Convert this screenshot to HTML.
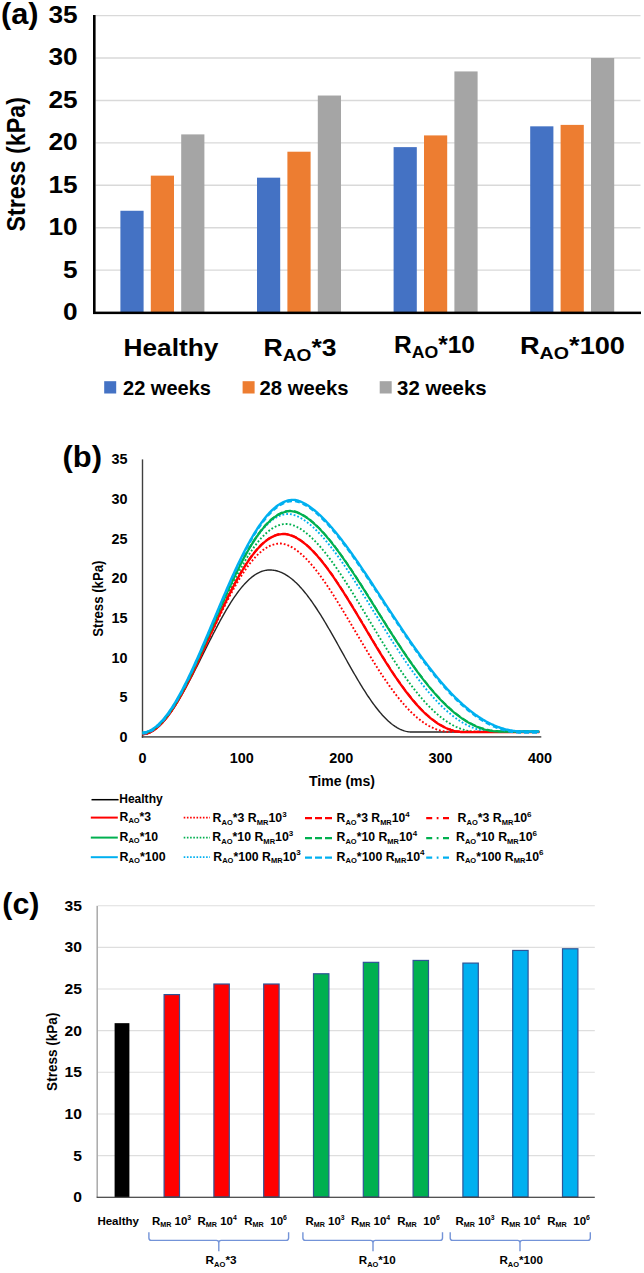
<!DOCTYPE html>
<html><head><meta charset="utf-8"><title>Stress figure</title>
<style>
html,body{margin:0;padding:0;background:#fff;}
body{width:644px;height:1273px;overflow:hidden;}
svg{display:block;font-family:"Liberation Sans",sans-serif;font-weight:bold;}
</style></head><body>
<svg width="644" height="1273" viewBox="0 0 644 1273">
<rect x="0" y="0" width="644" height="1273" fill="#fff"/>
<line x1="95.5" y1="270.17" x2="640.5" y2="270.17" stroke="#d9d9d9" stroke-width="1.4"/>
<line x1="95.5" y1="227.74" x2="640.5" y2="227.74" stroke="#d9d9d9" stroke-width="1.4"/>
<line x1="95.5" y1="185.31" x2="640.5" y2="185.31" stroke="#d9d9d9" stroke-width="1.4"/>
<line x1="95.5" y1="142.88" x2="640.5" y2="142.88" stroke="#d9d9d9" stroke-width="1.4"/>
<line x1="95.5" y1="100.45" x2="640.5" y2="100.45" stroke="#d9d9d9" stroke-width="1.4"/>
<line x1="95.5" y1="58.02" x2="640.5" y2="58.02" stroke="#d9d9d9" stroke-width="1.4"/>
<line x1="95.5" y1="15.59" x2="640.5" y2="15.59" stroke="#d9d9d9" stroke-width="1.4"/>
<rect x="120.4" y="210.77" width="23.2" height="101.83" fill="#4472c4"/>
<rect x="150.8" y="175.64" width="23.2" height="136.96" fill="#ed7d31"/>
<rect x="181.2" y="134.39" width="23.2" height="178.21" fill="#a5a5a5"/>
<rect x="257" y="177.67" width="23.2" height="134.93" fill="#4472c4"/>
<rect x="287.4" y="151.71" width="23.2" height="160.89" fill="#ed7d31"/>
<rect x="317.8" y="95.53" width="23.2" height="217.07" fill="#a5a5a5"/>
<rect x="393.6" y="147.12" width="23.2" height="165.48" fill="#4472c4"/>
<rect x="424" y="135.41" width="23.2" height="177.19" fill="#ed7d31"/>
<rect x="454.4" y="71.43" width="23.2" height="241.17" fill="#a5a5a5"/>
<rect x="530.2" y="126.33" width="23.2" height="186.27" fill="#4472c4"/>
<rect x="560.6" y="124.89" width="23.2" height="187.71" fill="#ed7d31"/>
<rect x="591" y="58.02" width="23.2" height="254.58" fill="#a5a5a5"/>
<rect x="93" y="15" width="2.6" height="299" fill="#000"/>
<rect x="93" y="311.6" width="548" height="2.5" fill="#000"/>
<text x="1" y="23.8" font-size="29.5" textLength="37.6" lengthAdjust="spacingAndGlyphs">(a)</text>
<text x="77.6" y="320" font-size="24.4" text-anchor="end" textLength="14.6" lengthAdjust="spacingAndGlyphs">0</text>
<text x="77.6" y="277.57" font-size="24.4" text-anchor="end" textLength="14.6" lengthAdjust="spacingAndGlyphs">5</text>
<text x="77.6" y="235.14" font-size="24.4" text-anchor="end" textLength="29.2" lengthAdjust="spacingAndGlyphs">10</text>
<text x="77.6" y="192.71" font-size="24.4" text-anchor="end" textLength="29.2" lengthAdjust="spacingAndGlyphs">15</text>
<text x="77.6" y="150.28" font-size="24.4" text-anchor="end" textLength="29.2" lengthAdjust="spacingAndGlyphs">20</text>
<text x="77.6" y="107.85" font-size="24.4" text-anchor="end" textLength="29.2" lengthAdjust="spacingAndGlyphs">25</text>
<text x="77.6" y="65.42" font-size="24.4" text-anchor="end" textLength="29.2" lengthAdjust="spacingAndGlyphs">30</text>
<text x="77.6" y="22.99" font-size="24.4" text-anchor="end" textLength="29.2" lengthAdjust="spacingAndGlyphs">35</text>
<text transform="translate(24.7,231.6) rotate(-90)" font-size="25.2" textLength="134.5" lengthAdjust="spacingAndGlyphs">Stress (kPa)</text>
<text x="123.5" y="355.7" font-size="24.4" textLength="95" lengthAdjust="spacingAndGlyphs">Healthy</text>
<text x="263.5" y="355.9" font-size="23.8" textLength="73" lengthAdjust="spacingAndGlyphs">R<tspan font-size="17.2" dy="5.3">AO</tspan><tspan dy="-5.3">*3</tspan></text>
<text x="394" y="353" font-size="23.8" textLength="81" lengthAdjust="spacingAndGlyphs">R<tspan font-size="17.2" dy="5.3">AO</tspan><tspan dy="-5.3">*10</tspan></text>
<text x="520" y="353.7" font-size="23.8" textLength="105" lengthAdjust="spacingAndGlyphs">R<tspan font-size="17.2" dy="5.3">AO</tspan><tspan dy="-5.3">*100</tspan></text>
<rect x="104.2" y="381.2" width="12" height="12.3" fill="#4472c4"/>
<text x="123" y="394.8" font-size="20.4" textLength="88" lengthAdjust="spacingAndGlyphs">22 weeks</text>
<rect x="242.6" y="381.2" width="12" height="12.3" fill="#ed7d31"/>
<text x="259.6" y="394.8" font-size="20.4" textLength="89" lengthAdjust="spacingAndGlyphs">28 weeks</text>
<rect x="379.7" y="381.2" width="12" height="12.3" fill="#a5a5a5"/>
<text x="397.1" y="394.8" font-size="20.4" textLength="89.5" lengthAdjust="spacingAndGlyphs">32 weeks</text>
<rect x="141.8" y="459.4" width="1.4" height="278.4" fill="#404040"/>
<rect x="141.8" y="736.2" width="399.5" height="1.4" fill="#404040"/>
<text x="62.5" y="467.3" font-size="29.5" textLength="39.5" lengthAdjust="spacingAndGlyphs">(b)</text>
<text x="127.6" y="742.2" font-size="14.4" text-anchor="end">0</text>
<text x="127.6" y="702.46" font-size="14.4" text-anchor="end">5</text>
<text x="127.6" y="662.72" font-size="14.4" text-anchor="end">10</text>
<text x="127.6" y="622.98" font-size="14.4" text-anchor="end">15</text>
<text x="127.6" y="583.24" font-size="14.4" text-anchor="end">20</text>
<text x="127.6" y="543.5" font-size="14.4" text-anchor="end">25</text>
<text x="127.6" y="503.76" font-size="14.4" text-anchor="end">30</text>
<text x="127.6" y="464.02" font-size="14.4" text-anchor="end">35</text>
<text x="142.4" y="763.2" font-size="14.4" text-anchor="middle">0</text>
<text x="241.8" y="763.2" font-size="14.4" text-anchor="middle">100</text>
<text x="341.2" y="763.2" font-size="14.4" text-anchor="middle">200</text>
<text x="440.6" y="763.2" font-size="14.4" text-anchor="middle">300</text>
<text x="540" y="763.2" font-size="14.4" text-anchor="middle">400</text>
<text x="342" y="785.6" font-size="14" text-anchor="middle" textLength="66" lengthAdjust="spacingAndGlyphs">Time (ms)</text>
<text transform="translate(103.4,636.8) rotate(-90)" font-size="14.8" textLength="76.3" lengthAdjust="spacingAndGlyphs">Stress (kPa)</text>
<path d="M142.40 734.54 L143.39 734.50 L144.38 734.40 L145.38 734.23 L146.37 734.01 L147.36 733.72 L148.35 733.38 L149.34 732.98 L150.34 732.53 L151.33 732.03 L152.32 731.47 L153.31 730.86 L154.30 730.20 L155.30 729.49 L156.29 728.73 L157.28 727.92 L158.27 727.07 L159.26 726.17 L160.26 725.22 L161.25 724.22 L162.24 723.18 L163.23 722.10 L164.22 720.98 L165.22 719.81 L166.21 718.60 L167.20 717.36 L168.19 716.07 L169.18 714.74 L170.18 713.38 L171.17 711.98 L172.16 710.55 L173.15 709.08 L174.14 707.58 L175.14 706.05 L176.13 704.49 L177.12 702.89 L178.11 701.27 L179.10 699.62 L180.10 697.94 L181.09 696.23 L182.08 694.50 L183.07 692.75 L184.06 690.97 L185.06 689.18 L186.05 687.36 L187.04 685.52 L188.03 683.67 L189.02 681.79 L190.02 679.90 L191.01 678.00 L192.00 676.08 L192.99 674.15 L193.98 672.21 L194.98 670.26 L195.97 668.30 L196.96 666.33 L197.95 664.36 L198.94 662.38 L199.94 660.39 L200.93 658.40 L201.92 656.41 L202.91 654.42 L203.90 652.43 L204.90 650.44 L205.89 648.45 L206.88 646.46 L207.87 644.48 L208.86 642.51 L209.86 640.54 L210.85 638.59 L211.84 636.64 L212.83 634.70 L213.82 632.77 L214.82 630.85 L215.81 628.95 L216.80 627.06 L217.79 625.19 L218.78 623.34 L219.78 621.50 L220.77 619.68 L221.76 617.88 L222.75 616.10 L223.74 614.34 L224.74 612.61 L225.73 610.90 L226.72 609.21 L227.71 607.55 L228.70 605.92 L229.70 604.31 L230.69 602.73 L231.68 601.18 L232.67 599.66 L233.66 598.17 L234.66 596.71 L235.65 595.28 L236.64 593.88 L237.63 592.52 L238.62 591.20 L239.62 589.91 L240.61 588.65 L241.60 587.43 L242.59 586.25 L243.58 585.10 L244.58 583.99 L245.57 582.93 L246.56 581.90 L247.55 580.91 L248.54 579.96 L249.54 579.05 L250.53 578.18 L251.52 577.36 L252.51 576.57 L253.50 575.83 L254.50 575.13 L255.49 574.48 L256.48 573.87 L257.47 573.30 L258.46 572.77 L259.46 572.29 L260.45 571.86 L261.44 571.47 L262.43 571.12 L263.42 570.82 L264.42 570.56 L265.41 570.35 L266.40 570.19 L267.39 570.07 L268.38 569.99 L269.38 569.96 L270.37 569.97 L271.36 570.02 L272.35 570.10 L273.34 570.21 L274.34 570.37 L275.33 570.55 L276.32 570.78 L277.31 571.04 L278.30 571.34 L279.30 571.68 L280.29 572.05 L281.28 572.46 L282.27 572.90 L283.26 573.38 L284.26 573.90 L285.25 574.46 L286.24 575.05 L287.23 575.67 L288.22 576.33 L289.22 577.03 L290.21 577.76 L291.20 578.53 L292.19 579.33 L293.18 580.16 L294.18 581.03 L295.17 581.93 L296.16 582.86 L297.15 583.83 L298.14 584.83 L299.14 585.86 L300.13 586.92 L301.12 588.02 L302.11 589.14 L303.10 590.29 L304.10 591.48 L305.09 592.69 L306.08 593.93 L307.07 595.19 L308.06 596.49 L309.06 597.81 L310.05 599.15 L311.04 600.53 L312.03 601.92 L313.02 603.34 L314.02 604.78 L315.01 606.25 L316.00 607.74 L316.99 609.25 L317.98 610.78 L318.98 612.33 L319.97 613.89 L320.96 615.48 L321.95 617.09 L322.94 618.71 L323.94 620.34 L324.93 622.00 L325.92 623.66 L326.91 625.34 L327.90 627.04 L328.90 628.74 L329.89 630.46 L330.88 632.18 L331.87 633.92 L332.86 635.66 L333.86 637.42 L334.85 639.18 L335.84 640.94 L336.83 642.71 L337.82 644.49 L338.82 646.27 L339.81 648.05 L340.80 649.83 L341.79 651.62 L342.78 653.40 L343.78 655.19 L344.77 656.97 L345.76 658.75 L346.75 660.52 L347.74 662.30 L348.74 664.06 L349.73 665.82 L350.72 667.58 L351.71 669.32 L352.70 671.06 L353.70 672.79 L354.69 674.51 L355.68 676.21 L356.67 677.91 L357.66 679.59 L358.66 681.26 L359.65 682.91 L360.64 684.55 L361.63 686.17 L362.62 687.78 L363.62 689.37 L364.61 690.93 L365.60 692.48 L366.59 694.01 L367.58 695.52 L368.58 697.01 L369.57 698.47 L370.56 699.92 L371.55 701.33 L372.54 702.73 L373.54 704.10 L374.53 705.44 L375.52 706.75 L376.51 708.04 L377.50 709.30 L378.50 710.53 L379.49 711.74 L380.48 712.91 L381.47 714.05 L382.46 715.17 L383.46 716.25 L384.45 717.29 L385.44 718.31 L386.43 719.29 L387.42 720.24 L388.42 721.16 L389.41 722.04 L390.40 722.89 L391.39 723.70 L392.38 724.47 L393.38 725.21 L394.37 725.91 L395.36 726.58 L396.35 727.20 L397.34 727.79 L398.34 728.34 L399.33 728.86 L400.32 729.33 L401.31 729.77 L402.30 730.17 L403.30 730.53 L404.29 730.85 L405.28 731.13 L406.27 731.37 L407.26 731.57 L408.26 731.73 L409.25 731.85 L410.24 731.93 L411.23 731.97 L412.22 731.97 L413.22 731.97 L414.21 731.97 L415.20 731.97 L416.19 731.97 L417.18 731.97 L418.18 731.97 L419.17 731.97 L420.16 731.97 L421.15 731.97 L422.14 731.97 L423.14 731.97 L424.13 731.97 L425.12 731.97 L426.11 731.97 L427.10 731.97 L428.10 731.97 L429.09 731.97 L430.08 731.97 L431.07 731.97 L432.06 731.97 L433.06 731.97 L434.05 731.97 L435.04 731.97 L436.03 731.97 L437.02 731.97 L438.02 731.97 L439.01 731.97 L440.00 731.97 L440.99 731.97 L441.98 731.97 L442.98 731.97 L443.97 731.97 L444.96 731.97 L445.95 731.97 L446.94 731.97 L447.94 731.97 L448.93 731.97 L449.92 731.97 L450.91 731.97 L451.90 731.97 L452.90 731.97 L453.89 731.97 L454.88 731.97 L455.87 731.97 L456.86 731.97 L457.86 731.97 L458.85 731.97 L459.84 731.97 L460.83 731.97 L461.82 731.97 L462.82 731.97 L463.81 731.97 L464.80 731.97 L465.79 731.97 L466.78 731.97 L467.78 731.97 L468.77 731.97 L469.76 731.97 L470.75 731.97 L471.74 731.97 L472.74 731.97 L473.73 731.97 L474.72 731.97 L475.71 731.97 L476.70 731.97 L477.70 731.97 L478.69 731.97 L479.68 731.97 L480.67 731.97 L481.66 731.97 L482.66 731.97 L483.65 731.97 L484.64 731.97 L485.63 731.97 L486.62 731.97 L487.62 731.97 L488.61 731.97 L489.60 731.97 L490.59 731.97 L491.58 731.97 L492.58 731.97 L493.57 731.97 L494.56 731.97 L495.55 731.97 L496.54 731.97 L497.54 731.97 L498.53 731.97 L499.52 731.97 L500.51 731.97 L501.50 731.97 L502.50 731.97 L503.49 731.97 L504.48 731.97 L505.47 731.97 L506.46 731.97 L507.46 731.97 L508.45 731.97 L509.44 731.97 L510.43 731.97 L511.42 731.97 L512.42 731.97 L513.41 731.97 L514.40 731.97 L515.39 731.97 L516.38 731.97 L517.38 731.97 L518.37 731.97 L519.36 731.97 L520.35 731.97 L521.34 731.97 L522.34 731.97 L523.33 731.97 L524.32 731.97 L525.31 731.97 L526.30 731.97 L527.30 731.97 L528.29 731.97 L529.28 731.97 L530.27 731.97 L531.26 731.97 L532.26 731.97 L533.25 731.97 L534.24 731.97 L535.23 731.97 L536.22 731.97 L537.22 731.97 L538.21 731.97 L539.20 731.97" fill="none" stroke="#262626" stroke-width="1.4" stroke-linejoin="round"/>
<path d="M142.40 734.31 L143.39 734.27 L144.38 734.16 L145.38 733.99 L146.37 733.76 L147.36 733.47 L148.35 733.12 L149.34 732.71 L150.34 732.25 L151.33 731.74 L152.32 731.17 L153.31 730.55 L154.30 729.88 L155.30 729.16 L156.29 728.39 L157.28 727.57 L158.27 726.70 L159.26 725.78 L160.26 724.82 L161.25 723.81 L162.24 722.76 L163.23 721.66 L164.22 720.52 L165.22 719.33 L166.21 718.11 L167.20 716.84 L168.19 715.53 L169.18 714.19 L170.18 712.80 L171.17 711.38 L172.16 709.92 L173.15 708.42 L174.14 706.89 L175.14 705.33 L176.13 703.73 L177.12 702.10 L178.11 700.44 L179.10 698.75 L180.10 697.03 L181.09 695.29 L182.08 693.51 L183.07 691.71 L184.06 689.88 L185.06 688.03 L186.05 686.15 L187.04 684.26 L188.03 682.34 L189.02 680.40 L190.02 678.44 L191.01 676.46 L192.00 674.47 L192.99 672.46 L193.98 670.43 L194.98 668.39 L195.97 666.34 L196.96 664.27 L197.95 662.20 L198.94 660.11 L199.94 658.02 L200.93 655.91 L201.92 653.80 L202.91 651.69 L203.90 649.57 L204.90 647.45 L205.89 645.32 L206.88 643.19 L207.87 641.06 L208.86 638.93 L209.86 636.81 L210.85 634.68 L211.84 632.56 L212.83 630.45 L213.82 628.34 L214.82 626.23 L215.81 624.14 L216.80 622.05 L217.79 619.97 L218.78 617.91 L219.78 615.85 L220.77 613.81 L221.76 611.78 L222.75 609.76 L223.74 607.77 L224.74 605.78 L225.73 603.82 L226.72 601.87 L227.71 599.94 L228.70 598.03 L229.70 596.15 L230.69 594.28 L231.68 592.44 L232.67 590.62 L233.66 588.82 L234.66 587.05 L235.65 585.31 L236.64 583.59 L237.63 581.90 L238.62 580.24 L239.62 578.60 L240.61 577.00 L241.60 575.43 L242.59 573.89 L243.58 572.38 L244.58 570.90 L245.57 569.46 L246.56 568.05 L247.55 566.67 L248.54 565.33 L249.54 564.02 L250.53 562.75 L251.52 561.52 L252.51 560.32 L253.50 559.17 L254.50 558.05 L255.49 556.97 L256.48 555.93 L257.47 554.92 L258.46 553.96 L259.46 553.04 L260.45 552.16 L261.44 551.32 L262.43 550.52 L263.42 549.76 L264.42 549.05 L265.41 548.38 L266.40 547.75 L267.39 547.16 L268.38 546.62 L269.38 546.12 L270.37 545.66 L271.36 545.25 L272.35 544.88 L273.34 544.56 L274.34 544.28 L275.33 544.04 L276.32 543.85 L277.31 543.70 L278.30 543.59 L279.30 543.53 L280.29 543.52 L281.28 543.57 L282.27 543.69 L283.26 543.86 L284.26 544.08 L285.25 544.35 L286.24 544.66 L287.23 545.01 L288.22 545.41 L289.22 545.85 L290.21 546.33 L291.20 546.85 L292.19 547.40 L293.18 547.99 L294.18 548.62 L295.17 549.28 L296.16 549.98 L297.15 550.71 L298.14 551.47 L299.14 552.27 L300.13 553.09 L301.12 553.95 L302.11 554.84 L303.10 555.76 L304.10 556.71 L305.09 557.68 L306.08 558.69 L307.07 559.72 L308.06 560.78 L309.06 561.86 L310.05 562.97 L311.04 564.11 L312.03 565.27 L313.02 566.45 L314.02 567.66 L315.01 568.89 L316.00 570.14 L316.99 571.42 L317.98 572.71 L318.98 574.03 L319.97 575.36 L320.96 576.72 L321.95 578.09 L322.94 579.48 L323.94 580.89 L324.93 582.32 L325.92 583.76 L326.91 585.22 L327.90 586.70 L328.90 588.19 L329.89 589.69 L330.88 591.21 L331.87 592.74 L332.86 594.28 L333.86 595.84 L334.85 597.40 L335.84 598.98 L336.83 600.57 L337.82 602.17 L338.82 603.78 L339.81 605.39 L340.80 607.02 L341.79 608.65 L342.78 610.29 L343.78 611.94 L344.77 613.59 L345.76 615.25 L346.75 616.91 L347.74 618.57 L348.74 620.25 L349.73 621.92 L350.72 623.60 L351.71 625.28 L352.70 626.96 L353.70 628.64 L354.69 630.32 L355.68 632.00 L356.67 633.69 L357.66 635.37 L358.66 637.05 L359.65 638.73 L360.64 640.40 L361.63 642.08 L362.62 643.75 L363.62 645.41 L364.61 647.08 L365.60 648.73 L366.59 650.38 L367.58 652.03 L368.58 653.67 L369.57 655.30 L370.56 656.93 L371.55 658.55 L372.54 660.15 L373.54 661.76 L374.53 663.35 L375.52 664.93 L376.51 666.50 L377.50 668.06 L378.50 669.62 L379.49 671.16 L380.48 672.68 L381.47 674.20 L382.46 675.70 L383.46 677.20 L384.45 678.67 L385.44 680.14 L386.43 681.59 L387.42 683.02 L388.42 684.44 L389.41 685.85 L390.40 687.24 L391.39 688.61 L392.38 689.97 L393.38 691.31 L394.37 692.63 L395.36 693.94 L396.35 695.23 L397.34 696.50 L398.34 697.75 L399.33 698.98 L400.32 700.20 L401.31 701.39 L402.30 702.57 L403.30 703.72 L404.29 704.86 L405.28 705.97 L406.27 707.07 L407.26 708.14 L408.26 709.19 L409.25 710.22 L410.24 711.23 L411.23 712.22 L412.22 713.18 L413.22 714.12 L414.21 715.04 L415.20 715.94 L416.19 716.81 L417.18 717.67 L418.18 718.49 L419.17 719.30 L420.16 720.08 L421.15 720.83 L422.14 721.56 L423.14 722.27 L424.13 722.95 L425.12 723.61 L426.11 724.24 L427.10 724.85 L428.10 725.44 L429.09 726.00 L430.08 726.53 L431.07 727.04 L432.06 727.52 L433.06 727.98 L434.05 728.41 L435.04 728.82 L436.03 729.20 L437.02 729.55 L438.02 729.88 L439.01 730.18 L440.00 730.46 L440.99 730.71 L441.98 730.94 L442.98 731.14 L443.97 731.31 L444.96 731.46 L445.95 731.58 L446.94 731.68 L447.94 731.75 L448.93 731.79 L449.92 731.81 L450.91 731.81 L451.90 731.81 L452.90 731.81 L453.89 731.81 L454.88 731.81 L455.87 731.81 L456.86 731.81 L457.86 731.81 L458.85 731.81 L459.84 731.81 L460.83 731.81 L461.82 731.81 L462.82 731.81 L463.81 731.81 L464.80 731.81 L465.79 731.81 L466.78 731.81 L467.78 731.81 L468.77 731.81 L469.76 731.81 L470.75 731.81 L471.74 731.81 L472.74 731.81 L473.73 731.81 L474.72 731.81 L475.71 731.81 L476.70 731.81 L477.70 731.81 L478.69 731.81 L479.68 731.81 L480.67 731.81 L481.66 731.81 L482.66 731.81 L483.65 731.81 L484.64 731.81 L485.63 731.81 L486.62 731.81 L487.62 731.81 L488.61 731.81 L489.60 731.81 L490.59 731.81 L491.58 731.81 L492.58 731.81 L493.57 731.81 L494.56 731.81 L495.55 731.81 L496.54 731.81 L497.54 731.81 L498.53 731.81 L499.52 731.81 L500.51 731.81 L501.50 731.81 L502.50 731.81 L503.49 731.81 L504.48 731.81 L505.47 731.81 L506.46 731.81 L507.46 731.81 L508.45 731.81 L509.44 731.81 L510.43 731.81 L511.42 731.81 L512.42 731.81 L513.41 731.81 L514.40 731.81 L515.39 731.81 L516.38 731.81 L517.38 731.81 L518.37 731.81 L519.36 731.81 L520.35 731.81 L521.34 731.81 L522.34 731.81 L523.33 731.81 L524.32 731.81 L525.31 731.81 L526.30 731.81 L527.30 731.81 L528.29 731.81 L529.28 731.81 L530.27 731.81 L531.26 731.81 L532.26 731.81 L533.25 731.81 L534.24 731.81 L535.23 731.81 L536.22 731.81 L537.22 731.81 L538.21 731.81 L539.20 731.81" fill="none" stroke="#ff0000" stroke-width="1.9" stroke-dasharray="1.8 2.0" stroke-linejoin="round"/>
<path d="M142.40 733.59 L143.39 733.55 L144.38 733.44 L145.38 733.27 L146.37 733.04 L147.36 732.75 L148.35 732.40 L149.34 732.00 L150.34 731.54 L151.33 731.03 L152.32 730.46 L153.31 729.84 L154.30 729.17 L155.30 728.45 L156.29 727.68 L157.28 726.85 L158.27 725.98 L159.26 725.06 L160.26 724.10 L161.25 723.08 L162.24 722.02 L163.23 720.92 L164.22 719.77 L165.22 718.58 L166.21 717.34 L167.20 716.06 L168.19 714.74 L169.18 713.38 L170.18 711.98 L171.17 710.54 L172.16 709.07 L173.15 707.55 L174.14 706.00 L175.14 704.41 L176.13 702.79 L177.12 701.14 L178.11 699.45 L179.10 697.73 L180.10 695.98 L181.09 694.20 L182.08 692.39 L183.07 690.55 L184.06 688.68 L185.06 686.79 L186.05 684.87 L187.04 682.93 L188.03 680.96 L189.02 678.97 L190.02 676.96 L191.01 674.93 L192.00 672.87 L192.99 670.80 L193.98 668.71 L194.98 666.61 L195.97 664.49 L196.96 662.35 L197.95 660.20 L198.94 658.04 L199.94 655.86 L200.93 653.67 L201.92 651.48 L202.91 649.27 L203.90 647.06 L204.90 644.84 L205.89 642.62 L206.88 640.39 L207.87 638.15 L208.86 635.92 L209.86 633.68 L210.85 631.44 L211.84 629.20 L212.83 626.97 L213.82 624.73 L214.82 622.50 L215.81 620.27 L216.80 618.05 L217.79 615.83 L218.78 613.62 L219.78 611.42 L220.77 609.23 L221.76 607.05 L222.75 604.88 L223.74 602.72 L224.74 600.58 L225.73 598.44 L226.72 596.33 L227.71 594.23 L228.70 592.14 L229.70 590.07 L230.69 588.03 L231.68 586.00 L232.67 583.99 L233.66 582.00 L234.66 580.03 L235.65 578.09 L236.64 576.17 L237.63 574.27 L238.62 572.40 L239.62 570.55 L240.61 568.73 L241.60 566.94 L242.59 565.18 L243.58 563.44 L244.58 561.74 L245.57 560.06 L246.56 558.42 L247.55 556.80 L248.54 555.22 L249.54 553.68 L250.53 552.16 L251.52 550.68 L252.51 549.24 L253.50 547.83 L254.50 546.45 L255.49 545.12 L256.48 543.82 L257.47 542.55 L258.46 541.33 L259.46 540.14 L260.45 538.99 L261.44 537.89 L262.43 536.82 L263.42 535.79 L264.42 534.80 L265.41 533.86 L266.40 532.95 L267.39 532.09 L268.38 531.27 L269.38 530.49 L270.37 529.75 L271.36 529.06 L272.35 528.41 L273.34 527.80 L274.34 527.24 L275.33 526.72 L276.32 526.25 L277.31 525.82 L278.30 525.43 L279.30 525.09 L280.29 524.79 L281.28 524.54 L282.27 524.33 L283.26 524.16 L284.26 524.04 L285.25 523.97 L286.24 523.94 L287.23 523.97 L288.22 524.07 L289.22 524.22 L290.21 524.43 L291.20 524.68 L292.19 524.97 L293.18 525.30 L294.18 525.67 L295.17 526.09 L296.16 526.53 L297.15 527.02 L298.14 527.54 L299.14 528.09 L300.13 528.68 L301.12 529.30 L302.11 529.96 L303.10 530.64 L304.10 531.35 L305.09 532.10 L306.08 532.87 L307.07 533.68 L308.06 534.51 L309.06 535.37 L310.05 536.25 L311.04 537.16 L312.03 538.10 L313.02 539.07 L314.02 540.06 L315.01 541.07 L316.00 542.11 L316.99 543.17 L317.98 544.25 L318.98 545.36 L319.97 546.49 L320.96 547.64 L321.95 548.81 L322.94 550.00 L323.94 551.21 L324.93 552.44 L325.92 553.70 L326.91 554.96 L327.90 556.25 L328.90 557.56 L329.89 558.88 L330.88 560.22 L331.87 561.58 L332.86 562.95 L333.86 564.33 L334.85 565.74 L335.84 567.15 L336.83 568.58 L337.82 570.03 L338.82 571.49 L339.81 572.96 L340.80 574.44 L341.79 575.94 L342.78 577.44 L343.78 578.96 L344.77 580.49 L345.76 582.03 L346.75 583.57 L347.74 585.13 L348.74 586.70 L349.73 588.27 L350.72 589.85 L351.71 591.44 L352.70 593.04 L353.70 594.64 L354.69 596.25 L355.68 597.86 L356.67 599.49 L357.66 601.11 L358.66 602.74 L359.65 604.37 L360.64 606.01 L361.63 607.65 L362.62 609.30 L363.62 610.94 L364.61 612.59 L365.60 614.24 L366.59 615.89 L367.58 617.54 L368.58 619.19 L369.57 620.85 L370.56 622.50 L371.55 624.15 L372.54 625.80 L373.54 627.45 L374.53 629.09 L375.52 630.74 L376.51 632.38 L377.50 634.01 L378.50 635.65 L379.49 637.28 L380.48 638.90 L381.47 640.53 L382.46 642.14 L383.46 643.75 L384.45 645.36 L385.44 646.96 L386.43 648.55 L387.42 650.14 L388.42 651.72 L389.41 653.29 L390.40 654.85 L391.39 656.41 L392.38 657.95 L393.38 659.49 L394.37 661.02 L395.36 662.54 L396.35 664.05 L397.34 665.55 L398.34 667.04 L399.33 668.51 L400.32 669.98 L401.31 671.44 L402.30 672.88 L403.30 674.31 L404.29 675.73 L405.28 677.14 L406.27 678.53 L407.26 679.91 L408.26 681.28 L409.25 682.64 L410.24 683.98 L411.23 685.30 L412.22 686.61 L413.22 687.91 L414.21 689.19 L415.20 690.46 L416.19 691.71 L417.18 692.94 L418.18 694.16 L419.17 695.36 L420.16 696.55 L421.15 697.72 L422.14 698.87 L423.14 700.01 L424.13 701.13 L425.12 702.23 L426.11 703.31 L427.10 704.38 L428.10 705.43 L429.09 706.45 L430.08 707.46 L431.07 708.46 L432.06 709.43 L433.06 710.38 L434.05 711.32 L435.04 712.23 L436.03 713.13 L437.02 714.01 L438.02 714.86 L439.01 715.70 L440.00 716.52 L440.99 717.31 L441.98 718.09 L442.98 718.84 L443.97 719.58 L444.96 720.29 L445.95 720.99 L446.94 721.66 L447.94 722.31 L448.93 722.94 L449.92 723.55 L450.91 724.14 L451.90 724.70 L452.90 725.25 L453.89 725.77 L454.88 726.28 L455.87 726.76 L456.86 727.21 L457.86 727.65 L458.85 728.07 L459.84 728.46 L460.83 728.83 L461.82 729.18 L462.82 729.51 L463.81 729.81 L464.80 730.09 L465.79 730.36 L466.78 730.59 L467.78 730.81 L468.77 731.01 L469.76 731.18 L470.75 731.33 L471.74 731.46 L472.74 731.56 L473.73 731.65 L474.72 731.71 L475.71 731.75 L476.70 731.77 L477.70 731.77 L478.69 731.77 L479.68 731.77 L480.67 731.77 L481.66 731.77 L482.66 731.77 L483.65 731.77 L484.64 731.77 L485.63 731.77 L486.62 731.77 L487.62 731.77 L488.61 731.77 L489.60 731.77 L490.59 731.77 L491.58 731.77 L492.58 731.77 L493.57 731.77 L494.56 731.77 L495.55 731.77 L496.54 731.77 L497.54 731.77 L498.53 731.77 L499.52 731.77 L500.51 731.77 L501.50 731.77 L502.50 731.77 L503.49 731.77 L504.48 731.77 L505.47 731.77 L506.46 731.77 L507.46 731.77 L508.45 731.77 L509.44 731.77 L510.43 731.77 L511.42 731.77 L512.42 731.77 L513.41 731.77 L514.40 731.77 L515.39 731.77 L516.38 731.77 L517.38 731.77 L518.37 731.77 L519.36 731.77 L520.35 731.77 L521.34 731.77 L522.34 731.77 L523.33 731.77 L524.32 731.77 L525.31 731.77 L526.30 731.77 L527.30 731.77 L528.29 731.77 L529.28 731.77 L530.27 731.77 L531.26 731.77 L532.26 731.77 L533.25 731.77 L534.24 731.77 L535.23 731.77 L536.22 731.77 L537.22 731.77 L538.21 731.77 L539.20 731.77" fill="none" stroke="#00b050" stroke-width="1.9" stroke-dasharray="1.8 2.0" stroke-linejoin="round"/>
<path d="M142.40 732.90 L143.39 732.87 L144.38 732.77 L145.38 732.61 L146.37 732.39 L147.36 732.11 L148.35 731.78 L149.34 731.39 L150.34 730.95 L151.33 730.45 L152.32 729.90 L153.31 729.30 L154.30 728.64 L155.30 727.94 L156.29 727.18 L157.28 726.37 L158.27 725.52 L159.26 724.61 L160.26 723.66 L161.25 722.66 L162.24 721.62 L163.23 720.52 L164.22 719.39 L165.22 718.20 L166.21 716.98 L167.20 715.71 L168.19 714.40 L169.18 713.04 L170.18 711.65 L171.17 710.21 L172.16 708.74 L173.15 707.22 L174.14 705.67 L175.14 704.08 L176.13 702.46 L177.12 700.80 L178.11 699.10 L179.10 697.38 L180.10 695.61 L181.09 693.82 L182.08 692.00 L183.07 690.14 L184.06 688.26 L185.06 686.35 L186.05 684.41 L187.04 682.44 L188.03 680.45 L189.02 678.43 L190.02 676.39 L191.01 674.33 L192.00 672.24 L192.99 670.14 L193.98 668.01 L194.98 665.86 L195.97 663.70 L196.96 661.52 L197.95 659.33 L198.94 657.12 L199.94 654.89 L200.93 652.65 L201.92 650.41 L202.91 648.15 L203.90 645.88 L204.90 643.60 L205.89 641.31 L206.88 639.02 L207.87 636.72 L208.86 634.42 L209.86 632.11 L210.85 629.80 L211.84 627.49 L212.83 625.18 L213.82 622.86 L214.82 620.55 L215.81 618.24 L216.80 615.94 L217.79 613.64 L218.78 611.35 L219.78 609.06 L220.77 606.78 L221.76 604.50 L222.75 602.24 L223.74 599.99 L224.74 597.75 L225.73 595.52 L226.72 593.30 L227.71 591.10 L228.70 588.91 L229.70 586.74 L230.69 584.59 L231.68 582.45 L232.67 580.34 L233.66 578.24 L234.66 576.16 L235.65 574.11 L236.64 572.08 L237.63 570.07 L238.62 568.08 L239.62 566.12 L240.61 564.19 L241.60 562.28 L242.59 560.40 L243.58 558.55 L244.58 556.72 L245.57 554.93 L246.56 553.17 L247.55 551.43 L248.54 549.73 L249.54 548.06 L250.53 546.43 L251.52 544.83 L252.51 543.26 L253.50 541.73 L254.50 540.23 L255.49 538.77 L256.48 537.35 L257.47 535.97 L258.46 534.62 L259.46 533.31 L260.45 532.04 L261.44 530.82 L262.43 529.63 L263.42 528.48 L264.42 527.37 L265.41 526.31 L266.40 525.28 L267.39 524.30 L268.38 523.36 L269.38 522.47 L270.37 521.62 L271.36 520.81 L272.35 520.05 L273.34 519.33 L274.34 518.65 L275.33 518.02 L276.32 517.44 L277.31 516.90 L278.30 516.41 L279.30 515.96 L280.29 515.56 L281.28 515.20 L282.27 514.89 L283.26 514.63 L284.26 514.41 L285.25 514.24 L286.24 514.11 L287.23 514.04 L288.22 514.00 L289.22 514.04 L290.21 514.15 L291.20 514.31 L292.19 514.52 L293.18 514.78 L294.18 515.07 L295.17 515.41 L296.16 515.79 L297.15 516.21 L298.14 516.66 L299.14 517.15 L300.13 517.67 L301.12 518.22 L302.11 518.81 L303.10 519.42 L304.10 520.07 L305.09 520.75 L306.08 521.45 L307.07 522.19 L308.06 522.95 L309.06 523.74 L310.05 524.55 L311.04 525.39 L312.03 526.26 L313.02 527.15 L314.02 528.07 L315.01 529.01 L316.00 529.97 L316.99 530.96 L317.98 531.97 L318.98 533.00 L319.97 534.05 L320.96 535.12 L321.95 536.21 L322.94 537.33 L323.94 538.46 L324.93 539.61 L325.92 540.78 L326.91 541.97 L327.90 543.18 L328.90 544.41 L329.89 545.65 L330.88 546.91 L331.87 548.18 L332.86 549.47 L333.86 550.78 L334.85 552.10 L335.84 553.43 L336.83 554.78 L337.82 556.15 L338.82 557.52 L339.81 558.91 L340.80 560.32 L341.79 561.73 L342.78 563.16 L343.78 564.60 L344.77 566.05 L345.76 567.51 L346.75 568.98 L347.74 570.46 L348.74 571.94 L349.73 573.44 L350.72 574.95 L351.71 576.47 L352.70 577.99 L353.70 579.52 L354.69 581.06 L355.68 582.60 L356.67 584.16 L357.66 585.71 L358.66 587.28 L359.65 588.85 L360.64 590.42 L361.63 592.00 L362.62 593.58 L363.62 595.17 L364.61 596.76 L365.60 598.35 L366.59 599.95 L367.58 601.55 L368.58 603.15 L369.57 604.75 L370.56 606.36 L371.55 607.96 L372.54 609.57 L373.54 611.18 L374.53 612.79 L375.52 614.39 L376.51 616.00 L377.50 617.61 L378.50 619.21 L379.49 620.81 L380.48 622.41 L381.47 624.01 L382.46 625.61 L383.46 627.21 L384.45 628.80 L385.44 630.38 L386.43 631.97 L387.42 633.55 L388.42 635.12 L389.41 636.70 L390.40 638.26 L391.39 639.82 L392.38 641.38 L393.38 642.93 L394.37 644.47 L395.36 646.01 L396.35 647.54 L397.34 649.06 L398.34 650.58 L399.33 652.09 L400.32 653.59 L401.31 655.08 L402.30 656.57 L403.30 658.04 L404.29 659.51 L405.28 660.97 L406.27 662.42 L407.26 663.86 L408.26 665.29 L409.25 666.71 L410.24 668.12 L411.23 669.52 L412.22 670.90 L413.22 672.28 L414.21 673.65 L415.20 675.00 L416.19 676.34 L417.18 677.67 L418.18 678.99 L419.17 680.30 L420.16 681.59 L421.15 682.87 L422.14 684.14 L423.14 685.39 L424.13 686.63 L425.12 687.86 L426.11 689.07 L427.10 690.27 L428.10 691.45 L429.09 692.63 L430.08 693.78 L431.07 694.92 L432.06 696.05 L433.06 697.16 L434.05 698.26 L435.04 699.34 L436.03 700.40 L437.02 701.45 L438.02 702.48 L439.01 703.50 L440.00 704.50 L440.99 705.48 L441.98 706.45 L442.98 707.40 L443.97 708.34 L444.96 709.26 L445.95 710.16 L446.94 711.04 L447.94 711.91 L448.93 712.75 L449.92 713.59 L450.91 714.40 L451.90 715.20 L452.90 715.97 L453.89 716.73 L454.88 717.48 L455.87 718.20 L456.86 718.91 L457.86 719.59 L458.85 720.26 L459.84 720.91 L460.83 721.54 L461.82 722.16 L462.82 722.75 L463.81 723.33 L464.80 723.89 L465.79 724.42 L466.78 724.94 L467.78 725.44 L468.77 725.93 L469.76 726.39 L470.75 726.83 L471.74 727.25 L472.74 727.66 L473.73 728.05 L474.72 728.41 L475.71 728.76 L476.70 729.09 L477.70 729.40 L478.69 729.68 L479.68 729.95 L480.67 730.21 L481.66 730.44 L482.66 730.65 L483.65 730.84 L484.64 731.01 L485.63 731.17 L486.62 731.30 L487.62 731.42 L488.61 731.51 L489.60 731.59 L490.59 731.65 L491.58 731.68 L492.58 731.70 L493.57 731.71 L494.56 731.71 L495.55 731.71 L496.54 731.71 L497.54 731.71 L498.53 731.71 L499.52 731.71 L500.51 731.71 L501.50 731.71 L502.50 731.71 L503.49 731.71 L504.48 731.71 L505.47 731.71 L506.46 731.71 L507.46 731.71 L508.45 731.71 L509.44 731.71 L510.43 731.71 L511.42 731.71 L512.42 731.71 L513.41 731.71 L514.40 731.71 L515.39 731.71 L516.38 731.71 L517.38 731.71 L518.37 731.71 L519.36 731.71 L520.35 731.71 L521.34 731.71 L522.34 731.71 L523.33 731.71 L524.32 731.71 L525.31 731.71 L526.30 731.71 L527.30 731.71 L528.29 731.71 L529.28 731.71 L530.27 731.71 L531.26 731.71 L532.26 731.71 L533.25 731.71 L534.24 731.71 L535.23 731.71 L536.22 731.71 L537.22 731.71 L538.21 731.71 L539.20 731.71" fill="none" stroke="#00b0f0" stroke-width="1.9" stroke-dasharray="1.8 2.0" stroke-linejoin="round"/>
<path d="M142.40 734.17 L143.39 734.14 L144.38 734.03 L145.38 733.86 L146.37 733.63 L147.36 733.35 L148.35 733.00 L149.34 732.60 L150.34 732.15 L151.33 731.64 L152.32 731.08 L153.31 730.46 L154.30 729.80 L155.30 729.08 L156.29 728.31 L157.28 727.50 L158.27 726.64 L159.26 725.72 L160.26 724.77 L161.25 723.76 L162.24 722.71 L163.23 721.62 L164.22 720.48 L165.22 719.30 L166.21 718.07 L167.20 716.81 L168.19 715.50 L169.18 714.15 L170.18 712.77 L171.17 711.34 L172.16 709.88 L173.15 708.39 L174.14 706.85 L175.14 705.28 L176.13 703.68 L177.12 702.05 L178.11 700.38 L179.10 698.68 L180.10 696.95 L181.09 695.19 L182.08 693.41 L183.07 691.59 L184.06 689.75 L185.06 687.89 L186.05 685.99 L187.04 684.08 L188.03 682.14 L189.02 680.18 L190.02 678.20 L191.01 676.20 L192.00 674.18 L192.99 672.15 L193.98 670.09 L194.98 668.03 L195.97 665.94 L196.96 663.85 L197.95 661.74 L198.94 659.61 L199.94 657.48 L200.93 655.34 L201.92 653.19 L202.91 651.03 L203.90 648.87 L204.90 646.70 L205.89 644.52 L206.88 642.35 L207.87 640.17 L208.86 637.98 L209.86 635.80 L210.85 633.62 L211.84 631.44 L212.83 629.27 L213.82 627.09 L214.82 624.92 L215.81 622.76 L216.80 620.61 L217.79 618.46 L218.78 616.32 L219.78 614.19 L220.77 612.07 L221.76 609.96 L222.75 607.87 L223.74 605.78 L224.74 603.72 L225.73 601.66 L226.72 599.63 L227.71 597.61 L228.70 595.61 L229.70 593.63 L230.69 591.67 L231.68 589.73 L232.67 587.81 L233.66 585.91 L234.66 584.03 L235.65 582.18 L236.64 580.36 L237.63 578.56 L238.62 576.79 L239.62 575.04 L240.61 573.32 L241.60 571.64 L242.59 569.98 L243.58 568.35 L244.58 566.75 L245.57 565.18 L246.56 563.65 L247.55 562.14 L248.54 560.68 L249.54 559.24 L250.53 557.84 L251.52 556.48 L252.51 555.15 L253.50 553.86 L254.50 552.60 L255.49 551.39 L256.48 550.21 L257.47 549.06 L258.46 547.96 L259.46 546.90 L260.45 545.88 L261.44 544.89 L262.43 543.95 L263.42 543.05 L264.42 542.19 L265.41 541.37 L266.40 540.60 L267.39 539.87 L268.38 539.18 L269.38 538.53 L270.37 537.92 L271.36 537.36 L272.35 536.84 L273.34 536.37 L274.34 535.94 L275.33 535.55 L276.32 535.21 L277.31 534.91 L278.30 534.66 L279.30 534.45 L280.29 534.29 L281.28 534.17 L282.27 534.09 L283.26 534.06 L284.26 534.08 L285.25 534.16 L286.24 534.29 L287.23 534.47 L288.22 534.69 L289.22 534.94 L290.21 535.24 L291.20 535.58 L292.19 535.95 L293.18 536.37 L294.18 536.81 L295.17 537.30 L296.16 537.81 L297.15 538.36 L298.14 538.95 L299.14 539.56 L300.13 540.21 L301.12 540.89 L302.11 541.60 L303.10 542.34 L304.10 543.11 L305.09 543.91 L306.08 544.74 L307.07 545.59 L308.06 546.48 L309.06 547.39 L310.05 548.33 L311.04 549.29 L312.03 550.28 L313.02 551.30 L314.02 552.34 L315.01 553.40 L316.00 554.49 L316.99 555.60 L317.98 556.74 L318.98 557.89 L319.97 559.07 L320.96 560.27 L321.95 561.49 L322.94 562.74 L323.94 564.00 L324.93 565.28 L325.92 566.58 L326.91 567.90 L327.90 569.24 L328.90 570.59 L329.89 571.97 L330.88 573.36 L331.87 574.76 L332.86 576.18 L333.86 577.62 L334.85 579.07 L335.84 580.54 L336.83 582.02 L337.82 583.51 L338.82 585.02 L339.81 586.54 L340.80 588.07 L341.79 589.61 L342.78 591.16 L343.78 592.72 L344.77 594.30 L345.76 595.88 L346.75 597.47 L347.74 599.07 L348.74 600.68 L349.73 602.29 L350.72 603.92 L351.71 605.55 L352.70 607.18 L353.70 608.82 L354.69 610.47 L355.68 612.12 L356.67 613.78 L357.66 615.43 L358.66 617.10 L359.65 618.76 L360.64 620.43 L361.63 622.10 L362.62 623.77 L363.62 625.44 L364.61 627.11 L365.60 628.78 L366.59 630.46 L367.58 632.13 L368.58 633.80 L369.57 635.46 L370.56 637.13 L371.55 638.79 L372.54 640.45 L373.54 642.10 L374.53 643.76 L375.52 645.40 L376.51 647.05 L377.50 648.68 L378.50 650.31 L379.49 651.94 L380.48 653.56 L381.47 655.17 L382.46 656.77 L383.46 658.37 L384.45 659.95 L385.44 661.53 L386.43 663.10 L387.42 664.66 L388.42 666.21 L389.41 667.75 L390.40 669.28 L391.39 670.80 L392.38 672.31 L393.38 673.80 L394.37 675.28 L395.36 676.75 L396.35 678.21 L397.34 679.65 L398.34 681.09 L399.33 682.50 L400.32 683.90 L401.31 685.29 L402.30 686.66 L403.30 688.02 L404.29 689.36 L405.28 690.69 L406.27 692.00 L407.26 693.29 L408.26 694.56 L409.25 695.82 L410.24 697.06 L411.23 698.29 L412.22 699.49 L413.22 700.68 L414.21 701.85 L415.20 703.00 L416.19 704.13 L417.18 705.24 L418.18 706.33 L419.17 707.40 L420.16 708.45 L421.15 709.48 L422.14 710.49 L423.14 711.48 L424.13 712.45 L425.12 713.39 L426.11 714.32 L427.10 715.22 L428.10 716.11 L429.09 716.97 L430.08 717.80 L431.07 718.62 L432.06 719.41 L433.06 720.18 L434.05 720.93 L435.04 721.65 L436.03 722.35 L437.02 723.03 L438.02 723.68 L439.01 724.31 L440.00 724.92 L440.99 725.50 L441.98 726.06 L442.98 726.60 L443.97 727.11 L444.96 727.59 L445.95 728.06 L446.94 728.49 L447.94 728.91 L448.93 729.30 L449.92 729.66 L450.91 730.00 L451.90 730.31 L452.90 730.60 L453.89 730.87 L454.88 731.11 L455.87 731.33 L456.86 731.52 L457.86 731.68 L458.85 731.82 L459.84 731.94 L460.83 732.03 L461.82 732.10 L462.82 732.14 L463.81 732.16 L464.80 732.16 L465.79 732.16 L466.78 732.16 L467.78 732.16 L468.77 732.16 L469.76 732.16 L470.75 732.16 L471.74 732.16 L472.74 732.16 L473.73 732.16 L474.72 732.16 L475.71 732.16 L476.70 732.16 L477.70 732.16 L478.69 732.16 L479.68 732.16 L480.67 732.16 L481.66 732.16 L482.66 732.16 L483.65 732.16 L484.64 732.16 L485.63 732.16 L486.62 732.16 L487.62 732.16 L488.61 732.16 L489.60 732.16 L490.59 732.16 L491.58 732.16 L492.58 732.16 L493.57 732.16 L494.56 732.16 L495.55 732.16 L496.54 732.16 L497.54 732.16 L498.53 732.16 L499.52 732.16 L500.51 732.16 L501.50 732.16 L502.50 732.16 L503.49 732.16 L504.48 732.16 L505.47 732.16 L506.46 732.16 L507.46 732.16 L508.45 732.16 L509.44 732.16 L510.43 732.16 L511.42 732.16 L512.42 732.16 L513.41 732.16 L514.40 732.16 L515.39 732.16 L516.38 732.16 L517.38 732.16 L518.37 732.16 L519.36 732.16 L520.35 732.16 L521.34 732.16 L522.34 732.16 L523.33 732.16 L524.32 732.16 L525.31 732.16 L526.30 732.16 L527.30 732.16 L528.29 732.16 L529.28 732.16 L530.27 732.16 L531.26 732.16 L532.26 732.16 L533.25 732.16 L534.24 732.16 L535.23 732.16 L536.22 732.16 L537.22 732.16 L538.21 732.16 L539.20 732.16" fill="none" stroke="#ff0000" stroke-width="2.3" stroke-linejoin="round"/>
<path d="M142.40 733.87 L143.39 733.84 L144.38 733.73 L145.38 733.56 L146.37 733.33 L147.36 733.05 L148.35 732.70 L149.34 732.30 L150.34 731.85 L151.33 731.34 L152.32 730.78 L153.31 730.16 L154.30 729.50 L155.30 728.78 L156.29 728.01 L157.28 727.20 L158.27 726.34 L159.26 725.42 L160.26 724.47 L161.25 723.46 L162.24 722.41 L163.23 721.32 L164.22 720.18 L165.22 719.00 L166.21 717.77 L167.20 716.51 L168.19 715.20 L169.18 713.85 L170.18 712.47 L171.17 711.04 L172.16 709.58 L173.15 708.09 L174.14 706.55 L175.14 704.98 L176.13 703.38 L177.12 701.75 L178.11 700.08 L179.10 698.38 L180.10 696.65 L181.09 694.89 L182.08 693.11 L183.07 691.29 L184.06 689.45 L185.06 687.59 L186.05 685.69 L187.04 683.78 L188.03 681.84 L189.02 679.88 L190.02 677.90 L191.01 675.90 L192.00 673.88 L192.99 671.85 L193.98 669.79 L194.98 667.73 L195.97 665.64 L196.96 663.55 L197.95 661.44 L198.94 659.31 L199.94 657.18 L200.93 655.04 L201.92 652.89 L202.91 650.73 L203.90 648.57 L204.90 646.40 L205.89 644.22 L206.88 642.05 L207.87 639.87 L208.86 637.68 L209.86 635.50 L210.85 633.32 L211.84 631.14 L212.83 628.97 L213.82 626.79 L214.82 624.62 L215.81 622.46 L216.80 620.31 L217.79 618.16 L218.78 616.02 L219.78 613.89 L220.77 611.77 L221.76 609.66 L222.75 607.57 L223.74 605.48 L224.74 603.42 L225.73 601.36 L226.72 599.33 L227.71 597.31 L228.70 595.31 L229.70 593.33 L230.69 591.37 L231.68 589.43 L232.67 587.51 L233.66 585.61 L234.66 583.73 L235.65 581.88 L236.64 580.06 L237.63 578.26 L238.62 576.49 L239.62 574.74 L240.61 573.02 L241.60 571.34 L242.59 569.68 L243.58 568.05 L244.58 566.45 L245.57 564.88 L246.56 563.35 L247.55 561.84 L248.54 560.38 L249.54 558.94 L250.53 557.54 L251.52 556.18 L252.51 554.85 L253.50 553.56 L254.50 552.30 L255.49 551.09 L256.48 549.91 L257.47 548.76 L258.46 547.66 L259.46 546.60 L260.45 545.58 L261.44 544.59 L262.43 543.65 L263.42 542.75 L264.42 541.89 L265.41 541.07 L266.40 540.30 L267.39 539.57 L268.38 538.88 L269.38 538.23 L270.37 537.62 L271.36 537.06 L272.35 536.54 L273.34 536.07 L274.34 535.64 L275.33 535.25 L276.32 534.91 L277.31 534.61 L278.30 534.36 L279.30 534.15 L280.29 533.99 L281.28 533.87 L282.27 533.79 L283.26 533.76 L284.26 533.78 L285.25 533.86 L286.24 533.99 L287.23 534.17 L288.22 534.39 L289.22 534.64 L290.21 534.94 L291.20 535.28 L292.19 535.65 L293.18 536.07 L294.18 536.51 L295.17 537.00 L296.16 537.51 L297.15 538.06 L298.14 538.65 L299.14 539.26 L300.13 539.91 L301.12 540.59 L302.11 541.30 L303.10 542.04 L304.10 542.81 L305.09 543.61 L306.08 544.44 L307.07 545.29 L308.06 546.18 L309.06 547.09 L310.05 548.03 L311.04 548.99 L312.03 549.98 L313.02 551.00 L314.02 552.04 L315.01 553.10 L316.00 554.19 L316.99 555.30 L317.98 556.44 L318.98 557.59 L319.97 558.77 L320.96 559.97 L321.95 561.19 L322.94 562.44 L323.94 563.70 L324.93 564.98 L325.92 566.28 L326.91 567.60 L327.90 568.94 L328.90 570.29 L329.89 571.67 L330.88 573.06 L331.87 574.46 L332.86 575.88 L333.86 577.32 L334.85 578.77 L335.84 580.24 L336.83 581.72 L337.82 583.21 L338.82 584.72 L339.81 586.24 L340.80 587.77 L341.79 589.31 L342.78 590.86 L343.78 592.42 L344.77 594.00 L345.76 595.58 L346.75 597.17 L347.74 598.77 L348.74 600.38 L349.73 601.99 L350.72 603.62 L351.71 605.25 L352.70 606.88 L353.70 608.52 L354.69 610.17 L355.68 611.82 L356.67 613.48 L357.66 615.13 L358.66 616.80 L359.65 618.46 L360.64 620.13 L361.63 621.80 L362.62 623.47 L363.62 625.14 L364.61 626.81 L365.60 628.48 L366.59 630.16 L367.58 631.83 L368.58 633.50 L369.57 635.16 L370.56 636.83 L371.55 638.49 L372.54 640.15 L373.54 641.80 L374.53 643.46 L375.52 645.10 L376.51 646.75 L377.50 648.38 L378.50 650.01 L379.49 651.64 L380.48 653.26 L381.47 654.87 L382.46 656.47 L383.46 658.07 L384.45 659.65 L385.44 661.23 L386.43 662.80 L387.42 664.36 L388.42 665.91 L389.41 667.45 L390.40 668.98 L391.39 670.50 L392.38 672.01 L393.38 673.50 L394.37 674.98 L395.36 676.45 L396.35 677.91 L397.34 679.35 L398.34 680.79 L399.33 682.20 L400.32 683.60 L401.31 684.99 L402.30 686.36 L403.30 687.72 L404.29 689.06 L405.28 690.39 L406.27 691.70 L407.26 692.99 L408.26 694.26 L409.25 695.52 L410.24 696.76 L411.23 697.99 L412.22 699.19 L413.22 700.38 L414.21 701.55 L415.20 702.70 L416.19 703.83 L417.18 704.94 L418.18 706.03 L419.17 707.10 L420.16 708.15 L421.15 709.18 L422.14 710.19 L423.14 711.18 L424.13 712.15 L425.12 713.09 L426.11 714.02 L427.10 714.92 L428.10 715.81 L429.09 716.67 L430.08 717.50 L431.07 718.32 L432.06 719.11 L433.06 719.88 L434.05 720.63 L435.04 721.35 L436.03 722.05 L437.02 722.73 L438.02 723.38 L439.01 724.01 L440.00 724.62 L440.99 725.20 L441.98 725.76 L442.98 726.30 L443.97 726.81 L444.96 727.29 L445.95 727.76 L446.94 728.19 L447.94 728.61 L448.93 729.00 L449.92 729.36 L450.91 729.70 L451.90 730.01 L452.90 730.30 L453.89 730.57 L454.88 730.81 L455.87 731.03 L456.86 731.22 L457.86 731.38 L458.85 731.52 L459.84 731.64 L460.83 731.73 L461.82 731.80 L462.82 731.84 L463.81 731.86 L464.80 731.86 L465.79 731.86 L466.78 731.86 L467.78 731.86 L468.77 731.86 L469.76 731.86 L470.75 731.86 L471.74 731.86 L472.74 731.86 L473.73 731.86 L474.72 731.86 L475.71 731.86 L476.70 731.86 L477.70 731.86 L478.69 731.86 L479.68 731.86 L480.67 731.86 L481.66 731.86 L482.66 731.86 L483.65 731.86 L484.64 731.86 L485.63 731.86 L486.62 731.86 L487.62 731.86 L488.61 731.86 L489.60 731.86 L490.59 731.86 L491.58 731.86 L492.58 731.86 L493.57 731.86 L494.56 731.86 L495.55 731.86 L496.54 731.86 L497.54 731.86 L498.53 731.86 L499.52 731.86 L500.51 731.86 L501.50 731.86 L502.50 731.86 L503.49 731.86 L504.48 731.86 L505.47 731.86 L506.46 731.86 L507.46 731.86 L508.45 731.86 L509.44 731.86 L510.43 731.86 L511.42 731.86 L512.42 731.86 L513.41 731.86 L514.40 731.86 L515.39 731.86 L516.38 731.86 L517.38 731.86 L518.37 731.86 L519.36 731.86 L520.35 731.86 L521.34 731.86 L522.34 731.86 L523.33 731.86 L524.32 731.86 L525.31 731.86 L526.30 731.86 L527.30 731.86 L528.29 731.86 L529.28 731.86 L530.27 731.86 L531.26 731.86 L532.26 731.86 L533.25 731.86 L534.24 731.86 L535.23 731.86 L536.22 731.86 L537.22 731.86 L538.21 731.86 L539.20 731.86" fill="none" stroke="#ff0000" stroke-width="2.1" stroke-dasharray="6 3" stroke-linejoin="round"/>
<path d="M142.40 733.11 L143.39 733.07 L144.38 732.97 L145.38 732.79 L146.37 732.56 L147.36 732.27 L148.35 731.92 L149.34 731.52 L150.34 731.06 L151.33 730.54 L152.32 729.97 L153.31 729.35 L154.30 728.67 L155.30 727.95 L156.29 727.17 L157.28 726.34 L158.27 725.47 L159.26 724.54 L160.26 723.57 L161.25 722.55 L162.24 721.49 L163.23 720.38 L164.22 719.22 L165.22 718.03 L166.21 716.78 L167.20 715.50 L168.19 714.17 L169.18 712.80 L170.18 711.40 L171.17 709.95 L172.16 708.46 L173.15 706.94 L174.14 705.38 L175.14 703.78 L176.13 702.15 L177.12 700.48 L178.11 698.78 L179.10 697.05 L180.10 695.28 L181.09 693.49 L182.08 691.66 L183.07 689.81 L184.06 687.92 L185.06 686.01 L186.05 684.07 L187.04 682.11 L188.03 680.12 L189.02 678.11 L190.02 676.07 L191.01 674.01 L192.00 671.93 L192.99 669.83 L193.98 667.72 L194.98 665.58 L195.97 663.43 L196.96 661.26 L197.95 659.07 L198.94 656.87 L199.94 654.66 L200.93 652.43 L201.92 650.20 L202.91 647.95 L203.90 645.69 L204.90 643.43 L205.89 641.16 L206.88 638.88 L207.87 636.59 L208.86 634.30 L209.86 632.01 L210.85 629.71 L211.84 627.42 L212.83 625.12 L213.82 622.82 L214.82 620.52 L215.81 618.23 L216.80 615.94 L217.79 613.65 L218.78 611.37 L219.78 609.09 L220.77 606.82 L221.76 604.56 L222.75 602.31 L223.74 600.07 L224.74 597.83 L225.73 595.61 L226.72 593.41 L227.71 591.21 L228.70 589.03 L229.70 586.86 L230.69 584.72 L231.68 582.58 L232.67 580.47 L233.66 578.37 L234.66 576.30 L235.65 574.24 L236.64 572.20 L237.63 570.19 L238.62 568.20 L239.62 566.23 L240.61 564.29 L241.60 562.37 L242.59 560.48 L243.58 558.61 L244.58 556.77 L245.57 554.96 L246.56 553.18 L247.55 551.43 L248.54 549.70 L249.54 548.01 L250.53 546.35 L251.52 544.72 L252.51 543.13 L253.50 541.56 L254.50 540.03 L255.49 538.54 L256.48 537.08 L257.47 535.65 L258.46 534.27 L259.46 532.91 L260.45 531.60 L261.44 530.32 L262.43 529.08 L263.42 527.88 L264.42 526.72 L265.41 525.60 L266.40 524.51 L267.39 523.47 L268.38 522.47 L269.38 521.51 L270.37 520.59 L271.36 519.71 L272.35 518.87 L273.34 518.08 L274.34 517.33 L275.33 516.62 L276.32 515.95 L277.31 515.33 L278.30 514.75 L279.30 514.21 L280.29 513.72 L281.28 513.27 L282.27 512.86 L283.26 512.50 L284.26 512.19 L285.25 511.91 L286.24 511.69 L287.23 511.50 L288.22 511.36 L289.22 511.27 L290.21 511.22 L291.20 511.22 L292.19 511.31 L293.18 511.46 L294.18 511.66 L295.17 511.92 L296.16 512.22 L297.15 512.56 L298.14 512.95 L299.14 513.37 L300.13 513.83 L301.12 514.33 L302.11 514.86 L303.10 515.42 L304.10 516.01 L305.09 516.64 L306.08 517.30 L307.07 517.98 L308.06 518.70 L309.06 519.44 L310.05 520.22 L311.04 521.02 L312.03 521.84 L313.02 522.69 L314.02 523.57 L315.01 524.47 L316.00 525.39 L316.99 526.34 L317.98 527.31 L318.98 528.31 L319.97 529.32 L320.96 530.36 L321.95 531.42 L322.94 532.50 L323.94 533.59 L324.93 534.71 L325.92 535.85 L326.91 537.01 L327.90 538.18 L328.90 539.37 L329.89 540.58 L330.88 541.81 L331.87 543.05 L332.86 544.31 L333.86 545.58 L334.85 546.87 L335.84 548.18 L336.83 549.49 L337.82 550.83 L338.82 552.17 L339.81 553.53 L340.80 554.91 L341.79 556.29 L342.78 557.69 L343.78 559.10 L344.77 560.52 L345.76 561.95 L346.75 563.39 L347.74 564.84 L348.74 566.30 L349.73 567.77 L350.72 569.25 L351.71 570.74 L352.70 572.24 L353.70 573.74 L354.69 575.25 L355.68 576.77 L356.67 578.30 L357.66 579.83 L358.66 581.37 L359.65 582.91 L360.64 584.46 L361.63 586.02 L362.62 587.58 L363.62 589.14 L364.61 590.71 L365.60 592.28 L366.59 593.86 L367.58 595.44 L368.58 597.02 L369.57 598.60 L370.56 600.19 L371.55 601.78 L372.54 603.36 L373.54 604.95 L374.53 606.54 L375.52 608.14 L376.51 609.73 L377.50 611.32 L378.50 612.91 L379.49 614.50 L380.48 616.09 L381.47 617.67 L382.46 619.26 L383.46 620.84 L384.45 622.42 L385.44 624.00 L386.43 625.58 L387.42 627.15 L388.42 628.72 L389.41 630.28 L390.40 631.84 L391.39 633.40 L392.38 634.95 L393.38 636.50 L394.37 638.04 L395.36 639.58 L396.35 641.11 L397.34 642.63 L398.34 644.15 L399.33 645.66 L400.32 647.17 L401.31 648.67 L402.30 650.16 L403.30 651.64 L404.29 653.12 L405.28 654.58 L406.27 656.04 L407.26 657.49 L408.26 658.94 L409.25 660.37 L410.24 661.79 L411.23 663.21 L412.22 664.61 L413.22 666.01 L414.21 667.39 L415.20 668.77 L416.19 670.13 L417.18 671.48 L418.18 672.83 L419.17 674.16 L420.16 675.48 L421.15 676.78 L422.14 678.08 L423.14 679.36 L424.13 680.64 L425.12 681.90 L426.11 683.14 L427.10 684.38 L428.10 685.60 L429.09 686.81 L430.08 688.00 L431.07 689.19 L432.06 690.35 L433.06 691.51 L434.05 692.65 L435.04 693.77 L436.03 694.89 L437.02 695.98 L438.02 697.07 L439.01 698.14 L440.00 699.19 L440.99 700.23 L441.98 701.25 L442.98 702.26 L443.97 703.25 L444.96 704.23 L445.95 705.19 L446.94 706.14 L447.94 707.07 L448.93 707.98 L449.92 708.88 L450.91 709.76 L451.90 710.63 L452.90 711.47 L453.89 712.31 L454.88 713.12 L455.87 713.92 L456.86 714.70 L457.86 715.47 L458.85 716.22 L459.84 716.95 L460.83 717.66 L461.82 718.36 L462.82 719.04 L463.81 719.70 L464.80 720.34 L465.79 720.97 L466.78 721.58 L467.78 722.17 L468.77 722.74 L469.76 723.30 L470.75 723.84 L471.74 724.36 L472.74 724.86 L473.73 725.34 L474.72 725.81 L475.71 726.26 L476.70 726.69 L477.70 727.10 L478.69 727.50 L479.68 727.87 L480.67 728.23 L481.66 728.57 L482.66 728.89 L483.65 729.19 L484.64 729.48 L485.63 729.74 L486.62 729.99 L487.62 730.22 L488.61 730.43 L489.60 730.63 L490.59 730.80 L491.58 730.96 L492.58 731.10 L493.57 731.22 L494.56 731.32 L495.55 731.41 L496.54 731.47 L497.54 731.52 L498.53 731.55 L499.52 731.57 L500.51 731.57 L501.50 731.57 L502.50 731.57 L503.49 731.57 L504.48 731.57 L505.47 731.57 L506.46 731.57 L507.46 731.57 L508.45 731.57 L509.44 731.57 L510.43 731.57 L511.42 731.57 L512.42 731.57 L513.41 731.57 L514.40 731.57 L515.39 731.57 L516.38 731.57 L517.38 731.57 L518.37 731.57 L519.36 731.57 L520.35 731.57 L521.34 731.57 L522.34 731.57 L523.33 731.57 L524.32 731.57 L525.31 731.57 L526.30 731.57 L527.30 731.57 L528.29 731.57 L529.28 731.57 L530.27 731.57 L531.26 731.57 L532.26 731.57 L533.25 731.57 L534.24 731.57 L535.23 731.57 L536.22 731.57 L537.22 731.57 L538.21 731.57 L539.20 731.57" fill="none" stroke="#00b050" stroke-width="2.2" stroke-linejoin="round"/>
<path d="M142.40 732.71 L143.39 732.67 L144.38 732.57 L145.38 732.39 L146.37 732.16 L147.36 731.87 L148.35 731.52 L149.34 731.12 L150.34 730.66 L151.33 730.14 L152.32 729.57 L153.31 728.95 L154.30 728.27 L155.30 727.55 L156.29 726.77 L157.28 725.94 L158.27 725.07 L159.26 724.14 L160.26 723.17 L161.25 722.15 L162.24 721.09 L163.23 719.98 L164.22 718.82 L165.22 717.63 L166.21 716.38 L167.20 715.10 L168.19 713.77 L169.18 712.40 L170.18 711.00 L171.17 709.55 L172.16 708.06 L173.15 706.54 L174.14 704.98 L175.14 703.38 L176.13 701.75 L177.12 700.08 L178.11 698.38 L179.10 696.65 L180.10 694.88 L181.09 693.09 L182.08 691.26 L183.07 689.41 L184.06 687.52 L185.06 685.61 L186.05 683.67 L187.04 681.71 L188.03 679.72 L189.02 677.71 L190.02 675.67 L191.01 673.61 L192.00 671.53 L192.99 669.43 L193.98 667.32 L194.98 665.18 L195.97 663.03 L196.96 660.86 L197.95 658.67 L198.94 656.47 L199.94 654.26 L200.93 652.03 L201.92 649.80 L202.91 647.55 L203.90 645.29 L204.90 643.03 L205.89 640.76 L206.88 638.48 L207.87 636.19 L208.86 633.90 L209.86 631.61 L210.85 629.31 L211.84 627.02 L212.83 624.72 L213.82 622.42 L214.82 620.12 L215.81 617.83 L216.80 615.54 L217.79 613.25 L218.78 610.97 L219.78 608.69 L220.77 606.42 L221.76 604.16 L222.75 601.91 L223.74 599.67 L224.74 597.43 L225.73 595.21 L226.72 593.01 L227.71 590.81 L228.70 588.63 L229.70 586.46 L230.69 584.32 L231.68 582.18 L232.67 580.07 L233.66 577.97 L234.66 575.90 L235.65 573.84 L236.64 571.80 L237.63 569.79 L238.62 567.80 L239.62 565.83 L240.61 563.89 L241.60 561.97 L242.59 560.08 L243.58 558.21 L244.58 556.37 L245.57 554.56 L246.56 552.78 L247.55 551.03 L248.54 549.30 L249.54 547.61 L250.53 545.95 L251.52 544.32 L252.51 542.73 L253.50 541.16 L254.50 539.63 L255.49 538.14 L256.48 536.68 L257.47 535.25 L258.46 533.87 L259.46 532.51 L260.45 531.20 L261.44 529.92 L262.43 528.68 L263.42 527.48 L264.42 526.32 L265.41 525.20 L266.40 524.11 L267.39 523.07 L268.38 522.07 L269.38 521.11 L270.37 520.19 L271.36 519.31 L272.35 518.47 L273.34 517.68 L274.34 516.93 L275.33 516.22 L276.32 515.55 L277.31 514.93 L278.30 514.35 L279.30 513.81 L280.29 513.32 L281.28 512.87 L282.27 512.46 L283.26 512.10 L284.26 511.79 L285.25 511.51 L286.24 511.29 L287.23 511.10 L288.22 510.96 L289.22 510.87 L290.21 510.82 L291.20 510.82 L292.19 510.91 L293.18 511.06 L294.18 511.26 L295.17 511.52 L296.16 511.82 L297.15 512.16 L298.14 512.55 L299.14 512.97 L300.13 513.43 L301.12 513.93 L302.11 514.46 L303.10 515.02 L304.10 515.61 L305.09 516.24 L306.08 516.90 L307.07 517.58 L308.06 518.30 L309.06 519.04 L310.05 519.82 L311.04 520.62 L312.03 521.44 L313.02 522.29 L314.02 523.17 L315.01 524.07 L316.00 524.99 L316.99 525.94 L317.98 526.91 L318.98 527.91 L319.97 528.92 L320.96 529.96 L321.95 531.02 L322.94 532.10 L323.94 533.19 L324.93 534.31 L325.92 535.45 L326.91 536.61 L327.90 537.78 L328.90 538.97 L329.89 540.18 L330.88 541.41 L331.87 542.65 L332.86 543.91 L333.86 545.18 L334.85 546.47 L335.84 547.78 L336.83 549.09 L337.82 550.43 L338.82 551.77 L339.81 553.13 L340.80 554.51 L341.79 555.89 L342.78 557.29 L343.78 558.70 L344.77 560.12 L345.76 561.55 L346.75 562.99 L347.74 564.44 L348.74 565.90 L349.73 567.37 L350.72 568.85 L351.71 570.34 L352.70 571.84 L353.70 573.34 L354.69 574.85 L355.68 576.37 L356.67 577.90 L357.66 579.43 L358.66 580.97 L359.65 582.51 L360.64 584.06 L361.63 585.62 L362.62 587.18 L363.62 588.74 L364.61 590.31 L365.60 591.88 L366.59 593.46 L367.58 595.04 L368.58 596.62 L369.57 598.20 L370.56 599.79 L371.55 601.38 L372.54 602.96 L373.54 604.55 L374.53 606.14 L375.52 607.74 L376.51 609.33 L377.50 610.92 L378.50 612.51 L379.49 614.10 L380.48 615.69 L381.47 617.27 L382.46 618.86 L383.46 620.44 L384.45 622.02 L385.44 623.60 L386.43 625.18 L387.42 626.75 L388.42 628.32 L389.41 629.88 L390.40 631.44 L391.39 633.00 L392.38 634.55 L393.38 636.10 L394.37 637.64 L395.36 639.18 L396.35 640.71 L397.34 642.23 L398.34 643.75 L399.33 645.26 L400.32 646.77 L401.31 648.27 L402.30 649.76 L403.30 651.24 L404.29 652.72 L405.28 654.18 L406.27 655.64 L407.26 657.09 L408.26 658.54 L409.25 659.97 L410.24 661.39 L411.23 662.81 L412.22 664.21 L413.22 665.61 L414.21 666.99 L415.20 668.37 L416.19 669.73 L417.18 671.08 L418.18 672.43 L419.17 673.76 L420.16 675.08 L421.15 676.38 L422.14 677.68 L423.14 678.96 L424.13 680.24 L425.12 681.50 L426.11 682.74 L427.10 683.98 L428.10 685.20 L429.09 686.41 L430.08 687.60 L431.07 688.79 L432.06 689.95 L433.06 691.11 L434.05 692.25 L435.04 693.37 L436.03 694.49 L437.02 695.58 L438.02 696.67 L439.01 697.74 L440.00 698.79 L440.99 699.83 L441.98 700.85 L442.98 701.86 L443.97 702.85 L444.96 703.83 L445.95 704.79 L446.94 705.74 L447.94 706.67 L448.93 707.58 L449.92 708.48 L450.91 709.36 L451.90 710.23 L452.90 711.07 L453.89 711.91 L454.88 712.72 L455.87 713.52 L456.86 714.30 L457.86 715.07 L458.85 715.82 L459.84 716.55 L460.83 717.26 L461.82 717.96 L462.82 718.64 L463.81 719.30 L464.80 719.94 L465.79 720.57 L466.78 721.18 L467.78 721.77 L468.77 722.34 L469.76 722.90 L470.75 723.44 L471.74 723.96 L472.74 724.46 L473.73 724.94 L474.72 725.41 L475.71 725.86 L476.70 726.29 L477.70 726.70 L478.69 727.10 L479.68 727.47 L480.67 727.83 L481.66 728.17 L482.66 728.49 L483.65 728.79 L484.64 729.08 L485.63 729.34 L486.62 729.59 L487.62 729.82 L488.61 730.03 L489.60 730.23 L490.59 730.40 L491.58 730.56 L492.58 730.70 L493.57 730.82 L494.56 730.92 L495.55 731.01 L496.54 731.07 L497.54 731.12 L498.53 731.15 L499.52 731.17 L500.51 731.17 L501.50 731.17 L502.50 731.17 L503.49 731.17 L504.48 731.17 L505.47 731.17 L506.46 731.17 L507.46 731.17 L508.45 731.17 L509.44 731.17 L510.43 731.17 L511.42 731.17 L512.42 731.17 L513.41 731.17 L514.40 731.17 L515.39 731.17 L516.38 731.17 L517.38 731.17 L518.37 731.17 L519.36 731.17 L520.35 731.17 L521.34 731.17 L522.34 731.17 L523.33 731.17 L524.32 731.17 L525.31 731.17 L526.30 731.17 L527.30 731.17 L528.29 731.17 L529.28 731.17 L530.27 731.17 L531.26 731.17 L532.26 731.17 L533.25 731.17 L534.24 731.17 L535.23 731.17 L536.22 731.17 L537.22 731.17 L538.21 731.17 L539.20 731.17" fill="none" stroke="#00b050" stroke-width="2" stroke-dasharray="6 3" stroke-linejoin="round"/>
<path d="M142.40 732.39 L143.39 732.35 L144.38 732.24 L145.38 732.06 L146.37 731.83 L147.36 731.53 L148.35 731.17 L149.34 730.76 L150.34 730.29 L151.33 729.77 L152.32 729.19 L153.31 728.55 L154.30 727.86 L155.30 727.13 L156.29 726.34 L157.28 725.49 L158.27 724.60 L159.26 723.66 L160.26 722.68 L161.25 721.64 L162.24 720.56 L163.23 719.43 L164.22 718.25 L165.22 717.03 L166.21 715.77 L167.20 714.46 L168.19 713.11 L169.18 711.72 L170.18 710.28 L171.17 708.81 L172.16 707.30 L173.15 705.75 L174.14 704.16 L175.14 702.53 L176.13 700.87 L177.12 699.17 L178.11 697.44 L179.10 695.68 L180.10 693.88 L181.09 692.05 L182.08 690.19 L183.07 688.29 L184.06 686.37 L185.06 684.42 L186.05 682.45 L187.04 680.44 L188.03 678.41 L189.02 676.36 L190.02 674.28 L191.01 672.18 L192.00 670.06 L192.99 667.91 L193.98 665.75 L194.98 663.57 L195.97 661.36 L196.96 659.14 L197.95 656.91 L198.94 654.66 L199.94 652.39 L200.93 650.12 L201.92 647.82 L202.91 645.52 L203.90 643.21 L204.90 640.89 L205.89 638.55 L206.88 636.22 L207.87 633.87 L208.86 631.52 L209.86 629.16 L210.85 626.80 L211.84 624.44 L212.83 622.08 L213.82 619.71 L214.82 617.35 L215.81 614.98 L216.80 612.62 L217.79 610.26 L218.78 607.90 L219.78 605.55 L220.77 603.21 L221.76 600.87 L222.75 598.54 L223.74 596.22 L224.74 593.91 L225.73 591.61 L226.72 589.32 L227.71 587.04 L228.70 584.77 L229.70 582.52 L230.69 580.29 L231.68 578.06 L232.67 575.86 L233.66 573.67 L234.66 571.51 L235.65 569.36 L236.64 567.23 L237.63 565.12 L238.62 563.03 L239.62 560.97 L240.61 558.93 L241.60 556.91 L242.59 554.92 L243.58 552.95 L244.58 551.01 L245.57 549.10 L246.56 547.21 L247.55 545.35 L248.54 543.53 L249.54 541.73 L250.53 539.96 L251.52 538.22 L252.51 536.52 L253.50 534.84 L254.50 533.20 L255.49 531.60 L256.48 530.02 L257.47 528.49 L258.46 526.98 L259.46 525.52 L260.45 524.09 L261.44 522.69 L262.43 521.34 L263.42 520.02 L264.42 518.74 L265.41 517.50 L266.40 516.29 L267.39 515.13 L268.38 514.01 L269.38 512.93 L270.37 511.89 L271.36 510.89 L272.35 509.93 L273.34 509.01 L274.34 508.14 L275.33 507.31 L276.32 506.52 L277.31 505.77 L278.30 505.07 L279.30 504.41 L280.29 503.79 L281.28 503.22 L282.27 502.69 L283.26 502.21 L284.26 501.77 L285.25 501.38 L286.24 501.03 L287.23 500.72 L288.22 500.46 L289.22 500.24 L290.21 500.07 L291.20 499.95 L292.19 499.86 L293.18 499.83 L294.18 499.86 L295.17 499.98 L296.16 500.17 L297.15 500.40 L298.14 500.69 L299.14 501.02 L300.13 501.39 L301.12 501.79 L302.11 502.24 L303.10 502.72 L304.10 503.23 L305.09 503.77 L306.08 504.35 L307.07 504.95 L308.06 505.59 L309.06 506.25 L310.05 506.94 L311.04 507.66 L312.03 508.40 L313.02 509.17 L314.02 509.96 L315.01 510.77 L316.00 511.61 L316.99 512.48 L317.98 513.36 L318.98 514.27 L319.97 515.20 L320.96 516.14 L321.95 517.11 L322.94 518.10 L323.94 519.11 L324.93 520.14 L325.92 521.18 L326.91 522.24 L327.90 523.32 L328.90 524.42 L329.89 525.54 L330.88 526.67 L331.87 527.82 L332.86 528.98 L333.86 530.16 L334.85 531.35 L335.84 532.55 L336.83 533.78 L337.82 535.01 L338.82 536.26 L339.81 537.52 L340.80 538.79 L341.79 540.08 L342.78 541.38 L343.78 542.69 L344.77 544.01 L345.76 545.34 L346.75 546.68 L347.74 548.03 L348.74 549.40 L349.73 550.77 L350.72 552.15 L351.71 553.54 L352.70 554.94 L353.70 556.35 L354.69 557.76 L355.68 559.18 L356.67 560.61 L357.66 562.05 L358.66 563.50 L359.65 564.95 L360.64 566.41 L361.63 567.87 L362.62 569.34 L363.62 570.81 L364.61 572.29 L365.60 573.78 L366.59 575.27 L367.58 576.76 L368.58 578.26 L369.57 579.76 L370.56 581.26 L371.55 582.77 L372.54 584.28 L373.54 585.79 L374.53 587.31 L375.52 588.82 L376.51 590.34 L377.50 591.86 L378.50 593.38 L379.49 594.91 L380.48 596.43 L381.47 597.95 L382.46 599.48 L383.46 601.00 L384.45 602.53 L385.44 604.05 L386.43 605.57 L387.42 607.10 L388.42 608.62 L389.41 610.14 L390.40 611.65 L391.39 613.17 L392.38 614.68 L393.38 616.19 L394.37 617.70 L395.36 619.21 L396.35 620.71 L397.34 622.21 L398.34 623.71 L399.33 625.20 L400.32 626.69 L401.31 628.17 L402.30 629.65 L403.30 631.13 L404.29 632.60 L405.28 634.06 L406.27 635.52 L407.26 636.98 L408.26 638.43 L409.25 639.87 L410.24 641.31 L411.23 642.74 L412.22 644.16 L413.22 645.58 L414.21 646.99 L415.20 648.40 L416.19 649.80 L417.18 651.19 L418.18 652.57 L419.17 653.95 L420.16 655.31 L421.15 656.67 L422.14 658.02 L423.14 659.37 L424.13 660.70 L425.12 662.03 L426.11 663.34 L427.10 664.65 L428.10 665.95 L429.09 667.24 L430.08 668.52 L431.07 669.79 L432.06 671.05 L433.06 672.30 L434.05 673.54 L435.04 674.77 L436.03 675.99 L437.02 677.20 L438.02 678.40 L439.01 679.58 L440.00 680.76 L440.99 681.93 L441.98 683.08 L442.98 684.22 L443.97 685.36 L444.96 686.48 L445.95 687.58 L446.94 688.68 L447.94 689.77 L448.93 690.84 L449.92 691.90 L450.91 692.95 L451.90 693.98 L452.90 695.01 L453.89 696.02 L454.88 697.01 L455.87 698.00 L456.86 698.97 L457.86 699.93 L458.85 700.88 L459.84 701.81 L460.83 702.73 L461.82 703.64 L462.82 704.53 L463.81 705.41 L464.80 706.27 L465.79 707.12 L466.78 707.96 L467.78 708.79 L468.77 709.60 L469.76 710.39 L470.75 711.18 L471.74 711.94 L472.74 712.70 L473.73 713.44 L474.72 714.16 L475.71 714.87 L476.70 715.57 L477.70 716.25 L478.69 716.92 L479.68 717.57 L480.67 718.21 L481.66 718.83 L482.66 719.44 L483.65 720.04 L484.64 720.62 L485.63 721.18 L486.62 721.73 L487.62 722.26 L488.61 722.78 L489.60 723.29 L490.59 723.78 L491.58 724.25 L492.58 724.71 L493.57 725.16 L494.56 725.58 L495.55 726.00 L496.54 726.40 L497.54 726.78 L498.53 727.15 L499.52 727.50 L500.51 727.84 L501.50 728.16 L502.50 728.47 L503.49 728.76 L504.48 729.04 L505.47 729.30 L506.46 729.55 L507.46 729.78 L508.45 729.99 L509.44 730.19 L510.43 730.38 L511.42 730.55 L512.42 730.71 L513.41 730.85 L514.40 730.97 L515.39 731.08 L516.38 731.18 L517.38 731.25 L518.37 731.32 L519.36 731.37 L520.35 731.40 L521.34 731.42 L522.34 731.43 L523.33 731.43 L524.32 731.43 L525.31 731.43 L526.30 731.43 L527.30 731.43 L528.29 731.43 L529.28 731.43 L530.27 731.43 L531.26 731.43 L532.26 731.43 L533.25 731.43 L534.24 731.43 L535.23 731.43 L536.22 731.43 L537.22 731.43 L538.21 731.43 L539.20 731.43" fill="none" stroke="#00b0f0" stroke-width="2.4" stroke-linejoin="round"/>
<path d="M142.40 733.69 L143.39 733.65 L144.38 733.54 L145.38 733.36 L146.37 733.13 L147.36 732.83 L148.35 732.47 L149.34 732.06 L150.34 731.59 L151.33 731.07 L152.32 730.49 L153.31 729.85 L154.30 729.16 L155.30 728.43 L156.29 727.64 L157.28 726.79 L158.27 725.90 L159.26 724.96 L160.26 723.98 L161.25 722.94 L162.24 721.86 L163.23 720.73 L164.22 719.55 L165.22 718.33 L166.21 717.07 L167.20 715.76 L168.19 714.41 L169.18 713.02 L170.18 711.58 L171.17 710.11 L172.16 708.60 L173.15 707.05 L174.14 705.46 L175.14 703.83 L176.13 702.17 L177.12 700.47 L178.11 698.74 L179.10 696.98 L180.10 695.18 L181.09 693.35 L182.08 691.49 L183.07 689.59 L184.06 687.67 L185.06 685.72 L186.05 683.75 L187.04 681.74 L188.03 679.71 L189.02 677.66 L190.02 675.58 L191.01 673.48 L192.00 671.36 L192.99 669.21 L193.98 667.05 L194.98 664.87 L195.97 662.66 L196.96 660.44 L197.95 658.21 L198.94 655.96 L199.94 653.69 L200.93 651.42 L201.92 649.12 L202.91 646.82 L203.90 644.51 L204.90 642.19 L205.89 639.85 L206.88 637.52 L207.87 635.17 L208.86 632.82 L209.86 630.46 L210.85 628.10 L211.84 625.74 L212.83 623.38 L213.82 621.01 L214.82 618.65 L215.81 616.28 L216.80 613.92 L217.79 611.56 L218.78 609.20 L219.78 606.85 L220.77 604.51 L221.76 602.17 L222.75 599.84 L223.74 597.52 L224.74 595.21 L225.73 592.91 L226.72 590.62 L227.71 588.34 L228.70 586.07 L229.70 583.82 L230.69 581.59 L231.68 579.36 L232.67 577.16 L233.66 574.97 L234.66 572.81 L235.65 570.66 L236.64 568.53 L237.63 566.42 L238.62 564.33 L239.62 562.27 L240.61 560.23 L241.60 558.21 L242.59 556.22 L243.58 554.25 L244.58 552.31 L245.57 550.40 L246.56 548.51 L247.55 546.65 L248.54 544.83 L249.54 543.03 L250.53 541.26 L251.52 539.52 L252.51 537.82 L253.50 536.14 L254.50 534.50 L255.49 532.90 L256.48 531.32 L257.47 529.79 L258.46 528.28 L259.46 526.82 L260.45 525.39 L261.44 523.99 L262.43 522.64 L263.42 521.32 L264.42 520.04 L265.41 518.80 L266.40 517.59 L267.39 516.43 L268.38 515.31 L269.38 514.23 L270.37 513.19 L271.36 512.19 L272.35 511.23 L273.34 510.31 L274.34 509.44 L275.33 508.61 L276.32 507.82 L277.31 507.07 L278.30 506.37 L279.30 505.71 L280.29 505.09 L281.28 504.52 L282.27 503.99 L283.26 503.51 L284.26 503.07 L285.25 502.68 L286.24 502.33 L287.23 502.02 L288.22 501.76 L289.22 501.54 L290.21 501.37 L291.20 501.25 L292.19 501.16 L293.18 501.13 L294.18 501.16 L295.17 501.28 L296.16 501.47 L297.15 501.70 L298.14 501.99 L299.14 502.32 L300.13 502.69 L301.12 503.09 L302.11 503.54 L303.10 504.02 L304.10 504.53 L305.09 505.07 L306.08 505.65 L307.07 506.25 L308.06 506.89 L309.06 507.55 L310.05 508.24 L311.04 508.96 L312.03 509.70 L313.02 510.47 L314.02 511.26 L315.01 512.07 L316.00 512.91 L316.99 513.78 L317.98 514.66 L318.98 515.57 L319.97 516.50 L320.96 517.44 L321.95 518.41 L322.94 519.40 L323.94 520.41 L324.93 521.44 L325.92 522.48 L326.91 523.54 L327.90 524.62 L328.90 525.72 L329.89 526.84 L330.88 527.97 L331.87 529.12 L332.86 530.28 L333.86 531.46 L334.85 532.65 L335.84 533.85 L336.83 535.08 L337.82 536.31 L338.82 537.56 L339.81 538.82 L340.80 540.09 L341.79 541.38 L342.78 542.68 L343.78 543.99 L344.77 545.31 L345.76 546.64 L346.75 547.98 L347.74 549.33 L348.74 550.70 L349.73 552.07 L350.72 553.45 L351.71 554.84 L352.70 556.24 L353.70 557.65 L354.69 559.06 L355.68 560.48 L356.67 561.91 L357.66 563.35 L358.66 564.80 L359.65 566.25 L360.64 567.71 L361.63 569.17 L362.62 570.64 L363.62 572.11 L364.61 573.59 L365.60 575.08 L366.59 576.57 L367.58 578.06 L368.58 579.56 L369.57 581.06 L370.56 582.56 L371.55 584.07 L372.54 585.58 L373.54 587.09 L374.53 588.61 L375.52 590.12 L376.51 591.64 L377.50 593.16 L378.50 594.68 L379.49 596.21 L380.48 597.73 L381.47 599.25 L382.46 600.78 L383.46 602.30 L384.45 603.83 L385.44 605.35 L386.43 606.87 L387.42 608.40 L388.42 609.92 L389.41 611.44 L390.40 612.95 L391.39 614.47 L392.38 615.98 L393.38 617.49 L394.37 619.00 L395.36 620.51 L396.35 622.01 L397.34 623.51 L398.34 625.01 L399.33 626.50 L400.32 627.99 L401.31 629.47 L402.30 630.95 L403.30 632.43 L404.29 633.90 L405.28 635.36 L406.27 636.82 L407.26 638.28 L408.26 639.73 L409.25 641.17 L410.24 642.61 L411.23 644.04 L412.22 645.46 L413.22 646.88 L414.21 648.29 L415.20 649.70 L416.19 651.10 L417.18 652.49 L418.18 653.87 L419.17 655.25 L420.16 656.61 L421.15 657.97 L422.14 659.32 L423.14 660.67 L424.13 662.00 L425.12 663.33 L426.11 664.64 L427.10 665.95 L428.10 667.25 L429.09 668.54 L430.08 669.82 L431.07 671.09 L432.06 672.35 L433.06 673.60 L434.05 674.84 L435.04 676.07 L436.03 677.29 L437.02 678.50 L438.02 679.70 L439.01 680.88 L440.00 682.06 L440.99 683.23 L441.98 684.38 L442.98 685.52 L443.97 686.66 L444.96 687.78 L445.95 688.88 L446.94 689.98 L447.94 691.07 L448.93 692.14 L449.92 693.20 L450.91 694.25 L451.90 695.28 L452.90 696.31 L453.89 697.32 L454.88 698.31 L455.87 699.30 L456.86 700.27 L457.86 701.23 L458.85 702.18 L459.84 703.11 L460.83 704.03 L461.82 704.94 L462.82 705.83 L463.81 706.71 L464.80 707.57 L465.79 708.42 L466.78 709.26 L467.78 710.09 L468.77 710.90 L469.76 711.69 L470.75 712.48 L471.74 713.24 L472.74 714.00 L473.73 714.74 L474.72 715.46 L475.71 716.17 L476.70 716.87 L477.70 717.55 L478.69 718.22 L479.68 718.87 L480.67 719.51 L481.66 720.13 L482.66 720.74 L483.65 721.34 L484.64 721.92 L485.63 722.48 L486.62 723.03 L487.62 723.56 L488.61 724.08 L489.60 724.59 L490.59 725.08 L491.58 725.55 L492.58 726.01 L493.57 726.46 L494.56 726.88 L495.55 727.30 L496.54 727.70 L497.54 728.08 L498.53 728.45 L499.52 728.80 L500.51 729.14 L501.50 729.46 L502.50 729.77 L503.49 730.06 L504.48 730.34 L505.47 730.60 L506.46 730.85 L507.46 731.08 L508.45 731.29 L509.44 731.49 L510.43 731.68 L511.42 731.85 L512.42 732.01 L513.41 732.15 L514.40 732.27 L515.39 732.38 L516.38 732.48 L517.38 732.55 L518.37 732.62 L519.36 732.67 L520.35 732.70 L521.34 732.72 L522.34 732.73 L523.33 732.73 L524.32 732.73 L525.31 732.73 L526.30 732.73 L527.30 732.73 L528.29 732.73 L529.28 732.73 L530.27 732.73 L531.26 732.73 L532.26 732.73 L533.25 732.73 L534.24 732.73 L535.23 732.73 L536.22 732.73 L537.22 732.73 L538.21 732.73 L539.20 732.73" fill="none" stroke="#00b0f0" stroke-width="2.1" stroke-dasharray="5 3" stroke-linejoin="round"/>
<line x1="91.5" y1="799.7" x2="118.6" y2="799.7" stroke="#000" stroke-width="1.5"/>
<text x="119.2" y="803" font-size="12" textLength="43.5" lengthAdjust="spacingAndGlyphs">Healthy</text>
<line x1="90.8" y1="817.6" x2="117.8" y2="817.6" stroke="#ff0000" stroke-width="2"/>
<line x1="183.7" y1="817.6" x2="210" y2="817.6" stroke="#ff0000" stroke-width="1.8" stroke-dasharray="1.6 1.6"/>
<line x1="305" y1="818.1" x2="332" y2="818.1" stroke="#ff0000" stroke-width="2.2" stroke-dasharray="7 3"/>
<line x1="426.2" y1="818.1" x2="449.5" y2="818.1" stroke="#ff0000" stroke-width="2.2" stroke-dasharray="6 4.5 1.8 4.5"/>
<line x1="90.8" y1="837.6" x2="117.8" y2="837.6" stroke="#00b050" stroke-width="2"/>
<line x1="183.7" y1="837.6" x2="210" y2="837.6" stroke="#00b050" stroke-width="1.8" stroke-dasharray="1.6 1.6"/>
<line x1="305" y1="838.1" x2="332" y2="838.1" stroke="#00b050" stroke-width="2.2" stroke-dasharray="7 3"/>
<line x1="426.2" y1="838.1" x2="449.5" y2="838.1" stroke="#00b050" stroke-width="2.2" stroke-dasharray="6 4.5 1.8 4.5"/>
<line x1="90.8" y1="857.2" x2="117.8" y2="857.2" stroke="#00b0f0" stroke-width="2"/>
<line x1="183.7" y1="857.2" x2="210" y2="857.2" stroke="#00b0f0" stroke-width="1.8" stroke-dasharray="1.6 1.6"/>
<line x1="305" y1="857.7" x2="332" y2="857.7" stroke="#00b0f0" stroke-width="2.2" stroke-dasharray="7 3"/>
<line x1="426.2" y1="857.7" x2="449.5" y2="857.7" stroke="#00b0f0" stroke-width="2.2" stroke-dasharray="6 4.5 1.8 4.5"/>
<text x="119.6" y="821" textLength="31.5" lengthAdjust="spacingAndGlyphs"><tspan font-size="12.3">R</tspan><tspan font-size="7.5" dy="2.4">AO</tspan><tspan font-size="12.3" dy="-2.4">*3</tspan></text>
<text x="212.6" y="822.3" textLength="74" lengthAdjust="spacingAndGlyphs"><tspan font-size="12.3">R</tspan><tspan font-size="7.5" dy="2.4">AO</tspan><tspan font-size="12.3" dy="-2.4">*3&#160;R</tspan><tspan font-size="7.5" dy="2.4">MR</tspan><tspan font-size="12.3" dy="-2.4">10</tspan><tspan font-size="8" dy="-5.6">3</tspan></text>
<text x="336.6" y="822.3" textLength="73" lengthAdjust="spacingAndGlyphs"><tspan font-size="12.3">R</tspan><tspan font-size="7.5" dy="2.4">AO</tspan><tspan font-size="12.3" dy="-2.4">*3&#160;R</tspan><tspan font-size="7.5" dy="2.4">MR</tspan><tspan font-size="12.3" dy="-2.4">10</tspan><tspan font-size="8" dy="-5.6">4</tspan></text>
<text x="457.6" y="822.3" textLength="74" lengthAdjust="spacingAndGlyphs"><tspan font-size="12.3">R</tspan><tspan font-size="7.5" dy="2.4">AO</tspan><tspan font-size="12.3" dy="-2.4">*3&#160;R</tspan><tspan font-size="7.5" dy="2.4">MR</tspan><tspan font-size="12.3" dy="-2.4">10</tspan><tspan font-size="8" dy="-5.6">6</tspan></text>
<text x="119.6" y="840.6" textLength="38.5" lengthAdjust="spacingAndGlyphs"><tspan font-size="12.3">R</tspan><tspan font-size="7.5" dy="2.4">AO</tspan><tspan font-size="12.3" dy="-2.4">*10</tspan></text>
<text x="212.3" y="841.2" textLength="81" lengthAdjust="spacingAndGlyphs"><tspan font-size="12.3">R</tspan><tspan font-size="7.5" dy="2.4">AO</tspan><tspan font-size="12.3" dy="-2.4">*10&#160;R</tspan><tspan font-size="7.5" dy="2.4">MR</tspan><tspan font-size="12.3" dy="-2.4">10</tspan><tspan font-size="8" dy="-5.6">3</tspan></text>
<text x="336.6" y="841.2" textLength="80.5" lengthAdjust="spacingAndGlyphs"><tspan font-size="12.3">R</tspan><tspan font-size="7.5" dy="2.4">AO</tspan><tspan font-size="12.3" dy="-2.4">*10&#160;R</tspan><tspan font-size="7.5" dy="2.4">MR</tspan><tspan font-size="12.3" dy="-2.4">10</tspan><tspan font-size="8" dy="-5.6">4</tspan></text>
<text x="456" y="841.2" textLength="81" lengthAdjust="spacingAndGlyphs"><tspan font-size="12.3">R</tspan><tspan font-size="7.5" dy="2.4">AO</tspan><tspan font-size="12.3" dy="-2.4">*10&#160;R</tspan><tspan font-size="7.5" dy="2.4">MR</tspan><tspan font-size="12.3" dy="-2.4">10</tspan><tspan font-size="8" dy="-5.6">6</tspan></text>
<text x="119.6" y="861" textLength="46" lengthAdjust="spacingAndGlyphs"><tspan font-size="12.3">R</tspan><tspan font-size="7.5" dy="2.4">AO</tspan><tspan font-size="12.3" dy="-2.4">*100</tspan></text>
<text x="213.3" y="860.8" textLength="87.5" lengthAdjust="spacingAndGlyphs"><tspan font-size="12.3">R</tspan><tspan font-size="7.5" dy="2.4">AO</tspan><tspan font-size="12.3" dy="-2.4">*100&#160;R</tspan><tspan font-size="7.5" dy="2.4">MR</tspan><tspan font-size="12.3" dy="-2.4">10</tspan><tspan font-size="8" dy="-5.6">3</tspan></text>
<text x="336.6" y="860.8" textLength="88" lengthAdjust="spacingAndGlyphs"><tspan font-size="12.3">R</tspan><tspan font-size="7.5" dy="2.4">AO</tspan><tspan font-size="12.3" dy="-2.4">*100&#160;R</tspan><tspan font-size="7.5" dy="2.4">MR</tspan><tspan font-size="12.3" dy="-2.4">10</tspan><tspan font-size="8" dy="-5.6">4</tspan></text>
<text x="456" y="860.8" textLength="87.5" lengthAdjust="spacingAndGlyphs"><tspan font-size="12.3">R</tspan><tspan font-size="7.5" dy="2.4">AO</tspan><tspan font-size="12.3" dy="-2.4">*100&#160;R</tspan><tspan font-size="7.5" dy="2.4">MR</tspan><tspan font-size="12.3" dy="-2.4">10</tspan><tspan font-size="8" dy="-5.6">6</tspan></text>
<line x1="98" y1="1155.64" x2="594.8" y2="1155.64" stroke="#dedede" stroke-width="1.1"/>
<line x1="98" y1="1113.98" x2="594.8" y2="1113.98" stroke="#dedede" stroke-width="1.1"/>
<line x1="98" y1="1072.32" x2="594.8" y2="1072.32" stroke="#dedede" stroke-width="1.1"/>
<line x1="98" y1="1030.66" x2="594.8" y2="1030.66" stroke="#dedede" stroke-width="1.1"/>
<line x1="98" y1="989" x2="594.8" y2="989" stroke="#dedede" stroke-width="1.1"/>
<line x1="98" y1="947.34" x2="594.8" y2="947.34" stroke="#dedede" stroke-width="1.1"/>
<line x1="98" y1="905.68" x2="594.8" y2="905.68" stroke="#dedede" stroke-width="1.1"/>
<rect x="114.6" y="1023.16" width="14.8" height="174.14" fill="#000"/>
<rect x="164.1" y="994.6" width="15.4" height="202.4" fill="#ff0000" stroke="#2f5597" stroke-width="1.2"/>
<rect x="213.9" y="984.02" width="15.4" height="212.98" fill="#ff0000" stroke="#2f5597" stroke-width="1.2"/>
<rect x="263.7" y="984.02" width="15.4" height="212.98" fill="#ff0000" stroke="#2f5597" stroke-width="1.2"/>
<rect x="313.5" y="973.77" width="15.4" height="223.23" fill="#00b050" stroke="#2f5597" stroke-width="1.2"/>
<rect x="363.3" y="962.35" width="15.4" height="234.65" fill="#00b050" stroke="#2f5597" stroke-width="1.2"/>
<rect x="413.1" y="960.44" width="15.4" height="236.56" fill="#00b050" stroke="#2f5597" stroke-width="1.2"/>
<rect x="462.9" y="963.1" width="15.4" height="233.9" fill="#00b0f0" stroke="#2f5597" stroke-width="1.2"/>
<rect x="512.7" y="950.44" width="15.4" height="246.56" fill="#00b0f0" stroke="#2f5597" stroke-width="1.2"/>
<rect x="562.5" y="948.77" width="15.4" height="248.23" fill="#00b0f0" stroke="#2f5597" stroke-width="1.2"/>
<rect x="96.6" y="905.8" width="1.1" height="291.5" fill="#8a8a8a"/>
<rect x="96.6" y="1196.7" width="498.2" height="1.2" fill="#404040"/>
<text x="2.3" y="913.9" font-size="29.5" textLength="37.2" lengthAdjust="spacingAndGlyphs">(c)</text>
<text x="81.9" y="1202.2" font-size="13.8" text-anchor="end" textLength="8.7" lengthAdjust="spacingAndGlyphs">0</text>
<text x="81.9" y="1160.54" font-size="13.8" text-anchor="end" textLength="8.7" lengthAdjust="spacingAndGlyphs">5</text>
<text x="81.9" y="1118.88" font-size="13.8" text-anchor="end" textLength="17.4" lengthAdjust="spacingAndGlyphs">10</text>
<text x="81.9" y="1077.22" font-size="13.8" text-anchor="end" textLength="17.4" lengthAdjust="spacingAndGlyphs">15</text>
<text x="81.9" y="1035.56" font-size="13.8" text-anchor="end" textLength="17.4" lengthAdjust="spacingAndGlyphs">20</text>
<text x="81.9" y="993.9" font-size="13.8" text-anchor="end" textLength="17.4" lengthAdjust="spacingAndGlyphs">25</text>
<text x="81.9" y="952.24" font-size="13.8" text-anchor="end" textLength="17.4" lengthAdjust="spacingAndGlyphs">30</text>
<text x="81.9" y="910.58" font-size="13.8" text-anchor="end" textLength="17.4" lengthAdjust="spacingAndGlyphs">35</text>
<text transform="translate(57.4,1090.9) rotate(-90)" font-size="14.8" textLength="78.3" lengthAdjust="spacingAndGlyphs">Stress (kPa)</text>
<text x="97.4" y="1225" font-size="11.2" textLength="41.6" lengthAdjust="spacingAndGlyphs">Healthy</text>
<text x="151.9" y="1224.6" textLength="39.2" lengthAdjust="spacingAndGlyphs"><tspan font-size="11">R</tspan><tspan font-size="6.9" dy="2.3">MR</tspan><tspan font-size="11" dy="-2.3">&#160;10</tspan><tspan font-size="6.6" dy="-4.6">3</tspan></text>
<text x="197.6" y="1224.6" textLength="39.2" lengthAdjust="spacingAndGlyphs"><tspan font-size="11">R</tspan><tspan font-size="6.9" dy="2.3">MR</tspan><tspan font-size="11" dy="-2.3">&#160;10</tspan><tspan font-size="6.6" dy="-4.6">4</tspan></text>
<text x="244.3" y="1224.6" textLength="42.6" lengthAdjust="spacingAndGlyphs"><tspan font-size="11">R</tspan><tspan font-size="6.9" dy="2.3">MR</tspan><tspan font-size="11" dy="-2.3">&#160;&#160;10</tspan><tspan font-size="6.6" dy="-4.6">6</tspan></text>
<text x="205.6" y="1264.4" textLength="31" lengthAdjust="spacingAndGlyphs"><tspan font-size="11.5">R</tspan><tspan font-size="7.4" dy="2.4">AO</tspan><tspan font-size="11.5" dy="-2.4">*3</tspan></text>
<text x="305.4" y="1224.6" textLength="39.2" lengthAdjust="spacingAndGlyphs"><tspan font-size="11">R</tspan><tspan font-size="6.9" dy="2.3">MR</tspan><tspan font-size="11" dy="-2.3">&#160;10</tspan><tspan font-size="6.6" dy="-4.6">3</tspan></text>
<text x="350.9" y="1224.6" textLength="39.2" lengthAdjust="spacingAndGlyphs"><tspan font-size="11">R</tspan><tspan font-size="6.9" dy="2.3">MR</tspan><tspan font-size="11" dy="-2.3">&#160;10</tspan><tspan font-size="6.6" dy="-4.6">4</tspan></text>
<text x="397.3" y="1224.6" textLength="42.6" lengthAdjust="spacingAndGlyphs"><tspan font-size="11">R</tspan><tspan font-size="6.9" dy="2.3">MR</tspan><tspan font-size="11" dy="-2.3">&#160;&#160;10</tspan><tspan font-size="6.6" dy="-4.6">6</tspan></text>
<text x="358.8" y="1264.4" textLength="37" lengthAdjust="spacingAndGlyphs"><tspan font-size="11.5">R</tspan><tspan font-size="7.4" dy="2.4">AO</tspan><tspan font-size="11.5" dy="-2.4">*10</tspan></text>
<text x="455.4" y="1224.6" textLength="39.2" lengthAdjust="spacingAndGlyphs"><tspan font-size="11">R</tspan><tspan font-size="6.9" dy="2.3">MR</tspan><tspan font-size="11" dy="-2.3">&#160;10</tspan><tspan font-size="6.6" dy="-4.6">3</tspan></text>
<text x="500.9" y="1224.6" textLength="39.2" lengthAdjust="spacingAndGlyphs"><tspan font-size="11">R</tspan><tspan font-size="6.9" dy="2.3">MR</tspan><tspan font-size="11" dy="-2.3">&#160;10</tspan><tspan font-size="6.6" dy="-4.6">4</tspan></text>
<text x="547.3" y="1224.6" textLength="42.6" lengthAdjust="spacingAndGlyphs"><tspan font-size="11">R</tspan><tspan font-size="6.9" dy="2.3">MR</tspan><tspan font-size="11" dy="-2.3">&#160;&#160;10</tspan><tspan font-size="6.6" dy="-4.6">6</tspan></text>
<text x="499.4" y="1264.4" textLength="43.5" lengthAdjust="spacingAndGlyphs"><tspan font-size="11.5">R</tspan><tspan font-size="7.4" dy="2.4">AO</tspan><tspan font-size="11.5" dy="-2.4">*100</tspan></text>
<path d="M148.9 1232.3 L148.9 1238 Q148.9 1240.4 151.3 1240.4 L216.4 1240.4 Q218.8 1240.4 218.8 1242.8 Q218.8 1240.4 221.2 1240.4 L286.2 1240.4 Q288.6 1240.4 288.6 1238 L288.6 1232.3 M218.8 1242.8 L218.8 1251.3" fill="none" stroke="#7393d8" stroke-width="1.4"/>
<path d="M302.9 1232.3 L302.9 1238 Q302.9 1240.4 305.3 1240.4 L370.6 1240.4 Q373 1240.4 373 1242.8 Q373 1240.4 375.4 1240.4 L440.1 1240.4 Q442.5 1240.4 442.5 1238 L442.5 1232.3 M373 1242.8 L373 1251.3" fill="none" stroke="#7393d8" stroke-width="1.4"/>
<path d="M450.2 1232.3 L450.2 1238 Q450.2 1240.4 452.6 1240.4 L517.6 1240.4 Q520 1240.4 520 1242.8 Q520 1240.4 522.4 1240.4 L587.9 1240.4 Q590.3 1240.4 590.3 1238 L590.3 1232.3 M520 1242.8 L520 1251.3" fill="none" stroke="#7393d8" stroke-width="1.4"/>
</svg>
</body></html>
